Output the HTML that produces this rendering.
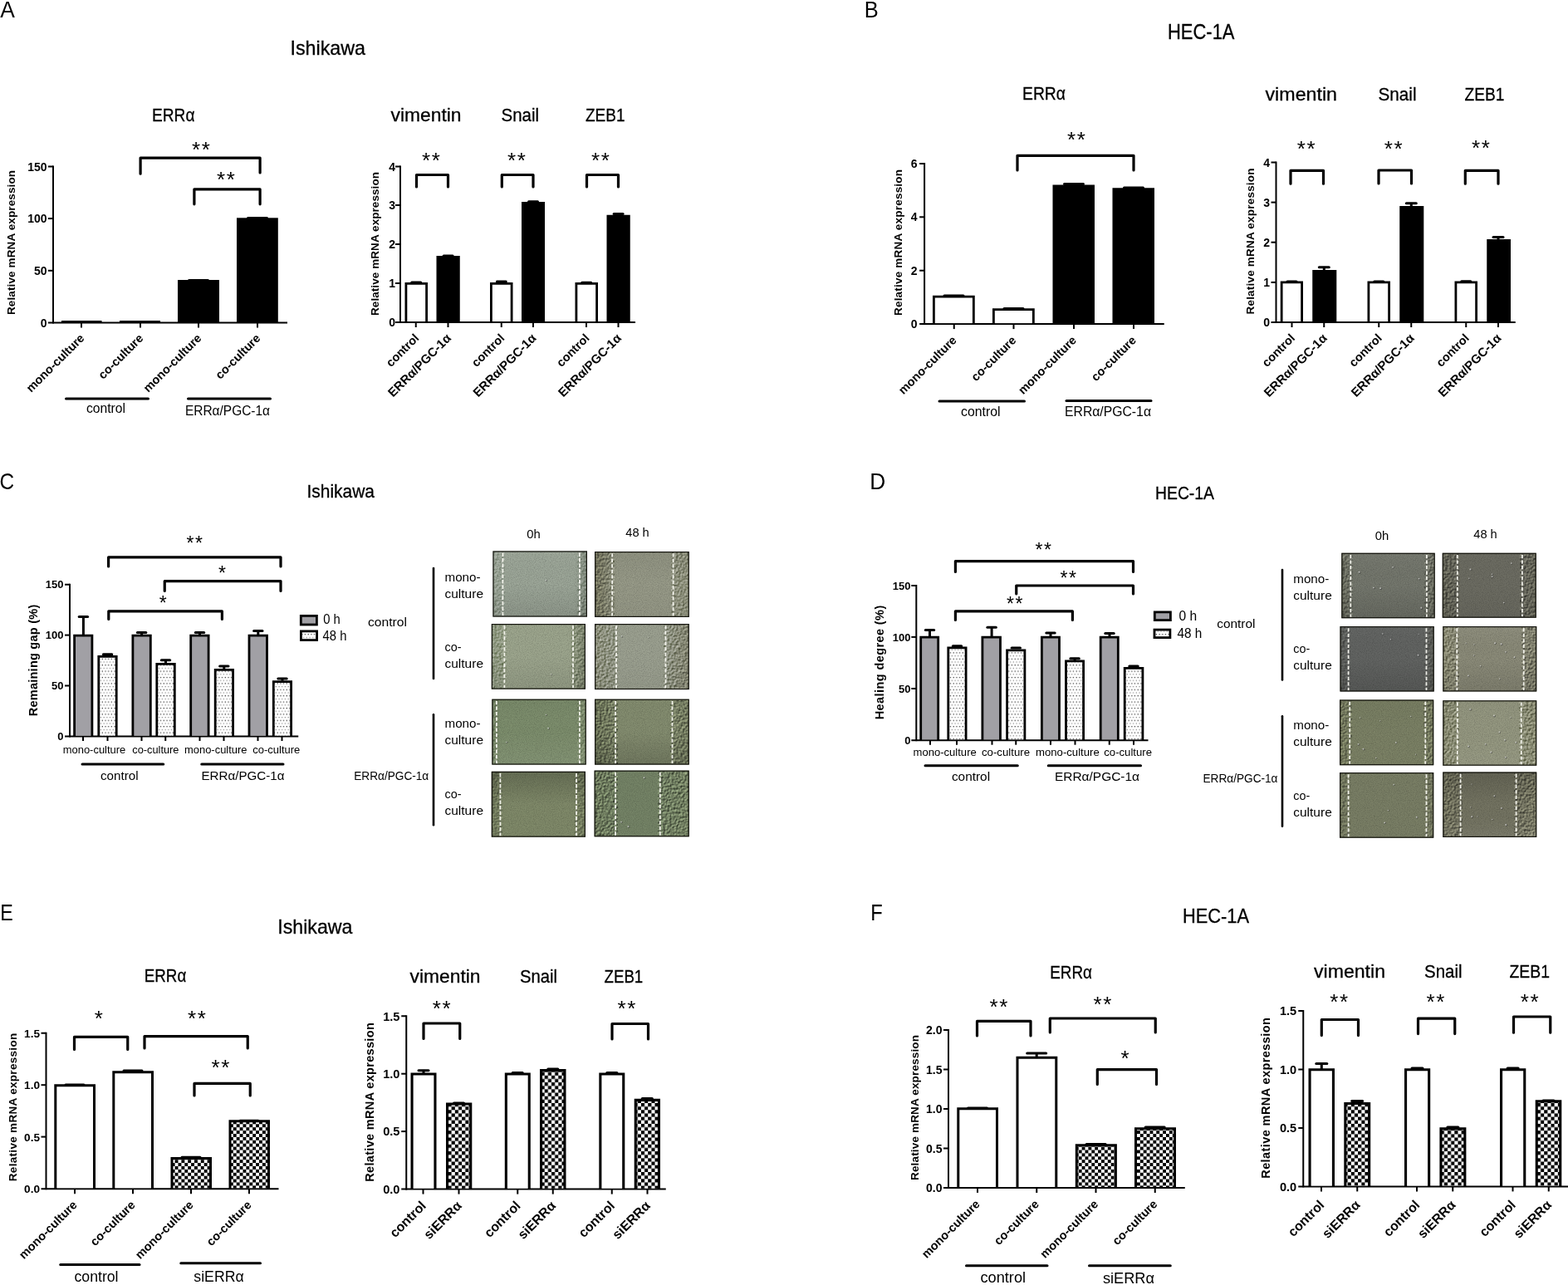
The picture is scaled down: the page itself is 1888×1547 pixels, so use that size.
<!DOCTYPE html>
<html lang="en"><head><meta charset="utf-8"><title>Figure</title>
<style>html,body{margin:0;padding:0;background:#fff}body{width:1888px;height:1547px;overflow:hidden}svg{display:block}text{font-family:"Liberation Sans",Arial,sans-serif;fill:#000}</style>
</head><body>
<svg width="1888" height="1547" viewBox="0 0 1888 1547" role="img" aria-label="Figure with panels A to F">
<defs>
<pattern id="chk" width="7.8" height="7.8" patternUnits="userSpaceOnUse"><rect width="7.8" height="7.8" fill="#fff"/><rect width="3.9" height="3.9" fill="#000"/><rect x="3.9" y="3.9" width="3.9" height="3.9" fill="#000"/></pattern>
<pattern id="chk2" width="8.3" height="8.3" patternUnits="userSpaceOnUse"><rect width="8.3" height="8.3" fill="#fff"/><rect width="4.15" height="4.15" fill="#000"/><rect x="4.15" y="4.15" width="4.15" height="4.15" fill="#000"/></pattern>
<pattern id="dot" width="3.7" height="7.4" patternUnits="userSpaceOnUse"><rect width="3.7" height="7.4" fill="#fff"/><rect x="0.6" y="0.9" width="1.25" height="1.25" fill="#3a3a3a"/><rect x="2.45" y="4.6" width="1.25" height="1.25" fill="#8c8c8c"/></pattern>
<filter id="nz" x="0" y="0" width="100%" height="100%"><feTurbulence type="fractalNoise" baseFrequency="0.9" numOctaves="2" seed="3" result="n"/><feColorMatrix in="n" type="matrix" values="0 0 0 0 0  0 0 0 0 0  0 0 0 0 0  1.1 0 0 0 -0.42"/></filter>
<filter id="nz2" x="0" y="0" width="100%" height="100%" color-interpolation-filters="sRGB"><feTurbulence type="fractalNoise" baseFrequency="0.38" numOctaves="2" seed="11" result="n"/><feDiffuseLighting in="n" surfaceScale="1.6" diffuseConstant="1" lighting-color="#ffffff" result="l"><feDistantLight azimuth="225" elevation="29"/></feDiffuseLighting><feGaussianBlur in="l" stdDeviation="0.45"/></filter>
</defs>
<rect width="1888" height="1547" fill="#fff"/>
<text x="0.2" y="21.2" font-size="28.5" textLength="17.6" lengthAdjust="spacingAndGlyphs">A</text>
<text x="1040.8" y="20.8" font-size="28.5" textLength="17" lengthAdjust="spacingAndGlyphs">B</text>
<text x="-0.6" y="589.2" font-size="28.5" textLength="17.6" lengthAdjust="spacingAndGlyphs">C</text>
<text x="1047.2" y="588.9" font-size="28.5" textLength="19" lengthAdjust="spacingAndGlyphs">D</text>
<text x="0.2" y="1108.2" font-size="28.5" textLength="15.5" lengthAdjust="spacingAndGlyphs">E</text>
<text x="1048.2" y="1107.7" font-size="28.5" textLength="14.5" lengthAdjust="spacingAndGlyphs">F</text>
<text x="349.5" y="65.7" font-size="23.8" textLength="90.5" lengthAdjust="spacingAndGlyphs" stroke="#000" stroke-width="0.3">Ishikawa</text>
<text x="1406" y="46.9" font-size="25.2" textLength="80.5" lengthAdjust="spacingAndGlyphs" stroke="#000" stroke-width="0.3">HEC-1A</text>
<text x="369.5" y="599.3" font-size="22.6" textLength="81.5" lengthAdjust="spacingAndGlyphs" stroke="#000" stroke-width="0.3">Ishikawa</text>
<text x="1391" y="601.2" font-size="21.5" textLength="71" lengthAdjust="spacingAndGlyphs" stroke="#000" stroke-width="0.3">HEC-1A</text>
<text x="334.25" y="1123.9" font-size="23.8" textLength="90.25" lengthAdjust="spacingAndGlyphs" stroke="#000" stroke-width="0.3">Ishikawa</text>
<text x="1424" y="1110.9" font-size="24.2" textLength="80" lengthAdjust="spacingAndGlyphs" stroke="#000" stroke-width="0.3">HEC-1A</text>
<text x="183" y="145.5" font-size="22.8" textLength="51.5" lengthAdjust="spacingAndGlyphs" stroke="#000" stroke-width="0.3">ERRα</text>
<text x="470.5" y="146.25" font-size="22.8" textLength="85" lengthAdjust="spacingAndGlyphs" stroke="#000" stroke-width="0.3">vimentin</text>
<text x="603.5" y="146.25" font-size="22.8" textLength="45.5" lengthAdjust="spacingAndGlyphs" stroke="#000" stroke-width="0.3">Snail</text>
<text x="705" y="146.25" font-size="22.8" textLength="47.5" lengthAdjust="spacingAndGlyphs" stroke="#000" stroke-width="0.3">ZEB1</text>
<text x="1231" y="120" font-size="22.8" textLength="52" lengthAdjust="spacingAndGlyphs" stroke="#000" stroke-width="0.3">ERRα</text>
<text x="1523.5" y="121.25" font-size="22.8" textLength="86.5" lengthAdjust="spacingAndGlyphs" stroke="#000" stroke-width="0.3">vimentin</text>
<text x="1659.5" y="121.25" font-size="22.8" textLength="46" lengthAdjust="spacingAndGlyphs" stroke="#000" stroke-width="0.3">Snail</text>
<text x="1763.5" y="121.25" font-size="22.8" textLength="48" lengthAdjust="spacingAndGlyphs" stroke="#000" stroke-width="0.3">ZEB1</text>
<text x="173.75" y="1181.75" font-size="22.8" textLength="50.5" lengthAdjust="spacingAndGlyphs" stroke="#000" stroke-width="0.3">ERRα</text>
<text x="493.5" y="1182.5" font-size="22.8" textLength="85" lengthAdjust="spacingAndGlyphs" stroke="#000" stroke-width="0.3">vimentin</text>
<text x="626" y="1182.5" font-size="22.8" textLength="45" lengthAdjust="spacingAndGlyphs" stroke="#000" stroke-width="0.3">Snail</text>
<text x="727.5" y="1182.5" font-size="22.8" textLength="46.75" lengthAdjust="spacingAndGlyphs" stroke="#000" stroke-width="0.3">ZEB1</text>
<text x="1264.25" y="1177.5" font-size="22.8" textLength="50.75" lengthAdjust="spacingAndGlyphs" stroke="#000" stroke-width="0.3">ERRα</text>
<text x="1582" y="1176.75" font-size="22.8" textLength="86" lengthAdjust="spacingAndGlyphs" stroke="#000" stroke-width="0.3">vimentin</text>
<text x="1715" y="1176.75" font-size="22.8" textLength="45.5" lengthAdjust="spacingAndGlyphs" stroke="#000" stroke-width="0.3">Snail</text>
<text x="1817.5" y="1176.75" font-size="22.8" textLength="48.5" lengthAdjust="spacingAndGlyphs" stroke="#000" stroke-width="0.3">ZEB1</text>
<line x1="64" y1="199.5" x2="64" y2="389.5" stroke="#000" stroke-width="2"/>
<line x1="58" y1="388.5" x2="346" y2="388.5" stroke="#000" stroke-width="2"/>
<text x="56.5" y="393.54" font-size="14" font-weight="bold" text-anchor="end">0</text>
<line x1="58" y1="325.8" x2="64" y2="325.8" stroke="#000" stroke-width="2"/>
<text x="56.5" y="330.84" font-size="14" font-weight="bold" text-anchor="end">50</text>
<line x1="58" y1="263.1" x2="64" y2="263.1" stroke="#000" stroke-width="2"/>
<text x="56.5" y="268.14" font-size="14" font-weight="bold" text-anchor="end">100</text>
<line x1="58" y1="200.5" x2="64" y2="200.5" stroke="#000" stroke-width="2"/>
<text x="56.5" y="205.54" font-size="14" font-weight="bold" text-anchor="end">150</text>
<text x="17.51" y="292" font-size="13.5" font-weight="bold" text-anchor="middle" textLength="174" lengthAdjust="spacing" transform="rotate(-90 17.51 292)">Relative mRNA expression</text>
<rect x="74" y="386" width="48.5" height="2.5" fill="#000"/>
<rect x="144" y="386" width="49" height="2.5" fill="#000"/>
<rect x="214" y="337" width="50" height="51.5" fill="#000"/>
<rect x="285" y="262.3" width="49.8" height="126.2" fill="#000"/>
<line x1="227.5" y1="337.5" x2="250.5" y2="337.5" stroke="#000" stroke-width="3" stroke-linecap="round"/>
<line x1="298.5" y1="262.5" x2="321.5" y2="262.5" stroke="#000" stroke-width="3" stroke-linecap="round"/>
<line x1="98" y1="388.5" x2="98" y2="394.5" stroke="#000" stroke-width="2"/>
<line x1="169" y1="388.5" x2="169" y2="394.5" stroke="#000" stroke-width="2"/>
<line x1="239" y1="388.5" x2="239" y2="394.5" stroke="#000" stroke-width="2"/>
<line x1="310" y1="388.5" x2="310" y2="394.5" stroke="#000" stroke-width="2"/>
<path d="M169.1 209.2V190.1H313.1V208" fill="none" stroke="#000" stroke-width="3.2" stroke-linecap="round" stroke-linejoin="round"/>
<text x="231.07" y="188.99" font-size="26" letter-spacing="1.6">**</text>
<path d="M233.9 245.8V227.8H313.1V245.8" fill="none" stroke="#000" stroke-width="3.2" stroke-linecap="round" stroke-linejoin="round"/>
<text x="261.07" y="225.39" font-size="26" letter-spacing="1.6">**</text>
<text x="102.5" y="408" font-size="14.4" font-weight="bold" text-anchor="end" transform="rotate(-45 102.5 408)">mono-culture</text>
<text x="173.5" y="408" font-size="14.4" font-weight="bold" text-anchor="end" transform="rotate(-45 173.5 408)">co-culture</text>
<text x="243.5" y="408" font-size="14.4" font-weight="bold" text-anchor="end" transform="rotate(-45 243.5 408)">mono-culture</text>
<text x="314.5" y="408" font-size="14.4" font-weight="bold" text-anchor="end" transform="rotate(-45 314.5 408)">co-culture</text>
<line x1="79.5" y1="480" x2="178.5" y2="480" stroke="#000" stroke-width="3" stroke-linecap="round"/>
<line x1="226.5" y1="480" x2="325.5" y2="480" stroke="#000" stroke-width="3" stroke-linecap="round"/>
<text x="127.5" y="497" font-size="15.7" text-anchor="middle">control</text>
<text x="274" y="499.5" font-size="15.7" text-anchor="middle" textLength="102" lengthAdjust="spacingAndGlyphs">ERRα/PGC-1α</text>
<line x1="482" y1="199.5" x2="482" y2="389" stroke="#000" stroke-width="2"/>
<line x1="476" y1="388" x2="765" y2="388" stroke="#000" stroke-width="2"/>
<text x="476" y="393.04" font-size="14" font-weight="bold" text-anchor="end">0</text>
<line x1="476" y1="341" x2="482" y2="341" stroke="#000" stroke-width="2"/>
<text x="476" y="346.04" font-size="14" font-weight="bold" text-anchor="end">1</text>
<line x1="476" y1="294" x2="482" y2="294" stroke="#000" stroke-width="2"/>
<text x="476" y="299.04" font-size="14" font-weight="bold" text-anchor="end">2</text>
<line x1="476" y1="247" x2="482" y2="247" stroke="#000" stroke-width="2"/>
<text x="476" y="252.04" font-size="14" font-weight="bold" text-anchor="end">3</text>
<line x1="476" y1="200.5" x2="482" y2="200.5" stroke="#000" stroke-width="2"/>
<text x="476" y="205.54" font-size="14" font-weight="bold" text-anchor="end">4</text>
<text x="456.01" y="293.5" font-size="13.5" font-weight="bold" text-anchor="middle" textLength="173" lengthAdjust="spacing" transform="rotate(-90 456.01 293.5)">Relative mRNA expression</text>
<rect x="488.9" y="341.4" width="24.7" height="45.6" fill="#fff"/>
<path d="M488.9 388V341.4H513.6V388" fill="none" stroke="#000" stroke-width="2.8" stroke-linejoin="miter"/>
<rect x="525.5" y="308" width="28.25" height="80" fill="#000"/>
<rect x="591.4" y="341.4" width="24.7" height="45.6" fill="#fff"/>
<path d="M591.4 388V341.4H616.1V388" fill="none" stroke="#000" stroke-width="2.8" stroke-linejoin="miter"/>
<rect x="628" y="243" width="28" height="145" fill="#000"/>
<rect x="693.9" y="341.4" width="24.7" height="45.6" fill="#fff"/>
<path d="M693.9 388V341.4H718.6V388" fill="none" stroke="#000" stroke-width="2.8" stroke-linejoin="miter"/>
<rect x="730.5" y="258.75" width="28.25" height="129.25" fill="#000"/>
<line x1="495.7" y1="340.1" x2="506.7" y2="340.1" stroke="#000" stroke-width="3" stroke-linecap="round"/>
<line x1="534.1" y1="308.1" x2="545.1" y2="308.1" stroke="#000" stroke-width="3" stroke-linecap="round"/>
<line x1="598.3" y1="339.1" x2="609.3" y2="339.1" stroke="#000" stroke-width="3" stroke-linecap="round"/>
<line x1="636.5" y1="242.7" x2="647.5" y2="242.7" stroke="#000" stroke-width="3" stroke-linecap="round"/>
<line x1="700.7" y1="340.3" x2="711.7" y2="340.3" stroke="#000" stroke-width="3" stroke-linecap="round"/>
<line x1="739.1" y1="257.6" x2="750.1" y2="257.6" stroke="#000" stroke-width="3" stroke-linecap="round"/>
<line x1="500.75" y1="388" x2="500.75" y2="394" stroke="#000" stroke-width="2"/>
<line x1="539.5" y1="388" x2="539.5" y2="394" stroke="#000" stroke-width="2"/>
<line x1="603.75" y1="388" x2="603.75" y2="394" stroke="#000" stroke-width="2"/>
<line x1="642" y1="388" x2="642" y2="394" stroke="#000" stroke-width="2"/>
<line x1="706" y1="388" x2="706" y2="394" stroke="#000" stroke-width="2"/>
<line x1="744.5" y1="388" x2="744.5" y2="394" stroke="#000" stroke-width="2"/>
<path d="M501.5 224.9V210.5H539.5V224.9" fill="none" stroke="#000" stroke-width="3.2" stroke-linecap="round" stroke-linejoin="round"/>
<text x="508.07" y="202.39" font-size="26" letter-spacing="1.6">**</text>
<path d="M604.3 224.9V210.5H642V224.9" fill="none" stroke="#000" stroke-width="3.2" stroke-linecap="round" stroke-linejoin="round"/>
<text x="611.07" y="202.39" font-size="26" letter-spacing="1.6">**</text>
<path d="M706.5 224.9V210.5H744.5V224.9" fill="none" stroke="#000" stroke-width="3.2" stroke-linecap="round" stroke-linejoin="round"/>
<text x="712.07" y="202.39" font-size="26" letter-spacing="1.6">**</text>
<text x="505.25" y="408" font-size="14.4" font-weight="bold" text-anchor="end" transform="rotate(-45 505.25 408)">control</text>
<text x="608.25" y="408" font-size="14.4" font-weight="bold" text-anchor="end" transform="rotate(-45 608.25 408)">control</text>
<text x="710.5" y="408" font-size="14.4" font-weight="bold" text-anchor="end" transform="rotate(-45 710.5 408)">control</text>
<text x="544" y="408" font-size="15" font-weight="bold" text-anchor="end" transform="rotate(-45 544 408)">ERRα/PGC-1α</text>
<text x="646.5" y="408" font-size="15" font-weight="bold" text-anchor="end" transform="rotate(-45 646.5 408)">ERRα/PGC-1α</text>
<text x="749" y="408" font-size="15" font-weight="bold" text-anchor="end" transform="rotate(-45 749 408)">ERRα/PGC-1α</text>
<line x1="1113.1" y1="196" x2="1113.1" y2="391.1" stroke="#000" stroke-width="2"/>
<line x1="1107.1" y1="390.1" x2="1401.75" y2="390.1" stroke="#000" stroke-width="2"/>
<text x="1104.5" y="395.14" font-size="14" font-weight="bold" text-anchor="end">0</text>
<line x1="1107.1" y1="325.7" x2="1113.1" y2="325.7" stroke="#000" stroke-width="2"/>
<text x="1104.5" y="330.74" font-size="14" font-weight="bold" text-anchor="end">2</text>
<line x1="1107.1" y1="261.3" x2="1113.1" y2="261.3" stroke="#000" stroke-width="2"/>
<text x="1104.5" y="266.34" font-size="14" font-weight="bold" text-anchor="end">4</text>
<line x1="1107.1" y1="197" x2="1113.1" y2="197" stroke="#000" stroke-width="2"/>
<text x="1104.5" y="202.04" font-size="14" font-weight="bold" text-anchor="end">6</text>
<text x="1086.01" y="292" font-size="13.5" font-weight="bold" text-anchor="middle" textLength="176" lengthAdjust="spacing" transform="rotate(-90 1086.01 292)">Relative mRNA expression</text>
<rect x="1124.4" y="357.1" width="47.95" height="32" fill="#fff"/>
<path d="M1124.4 390.1V357.1H1172.35V390.1" fill="none" stroke="#000" stroke-width="2.8" stroke-linejoin="miter"/>
<rect x="1196.4" y="372.6" width="47.95" height="16.5" fill="#fff"/>
<path d="M1196.4 390.1V372.6H1244.35V390.1" fill="none" stroke="#000" stroke-width="2.8" stroke-linejoin="miter"/>
<rect x="1267.5" y="222.5" width="50.5" height="167.6" fill="#000"/>
<rect x="1339.5" y="226.25" width="50.5" height="163.85" fill="#000"/>
<line x1="1137" y1="355.9" x2="1160" y2="355.9" stroke="#000" stroke-width="3" stroke-linecap="round"/>
<line x1="1209" y1="371.5" x2="1232" y2="371.5" stroke="#000" stroke-width="3" stroke-linecap="round"/>
<line x1="1281.5" y1="221.5" x2="1304.5" y2="221.5" stroke="#000" stroke-width="3" stroke-linecap="round"/>
<line x1="1353.5" y1="225.9" x2="1376.5" y2="225.9" stroke="#000" stroke-width="3" stroke-linecap="round"/>
<line x1="1148.75" y1="390.1" x2="1148.75" y2="396.1" stroke="#000" stroke-width="2"/>
<line x1="1220.5" y1="390.1" x2="1220.5" y2="396.1" stroke="#000" stroke-width="2"/>
<line x1="1293" y1="390.1" x2="1293" y2="396.1" stroke="#000" stroke-width="2"/>
<line x1="1365" y1="390.1" x2="1365" y2="396.1" stroke="#000" stroke-width="2"/>
<path d="M1225 204.9V187.3H1365V204.9" fill="none" stroke="#000" stroke-width="3.2" stroke-linecap="round" stroke-linejoin="round"/>
<text x="1285.07" y="177.39" font-size="26" letter-spacing="1.6">**</text>
<text x="1152.75" y="410.5" font-size="14.4" font-weight="bold" text-anchor="end" transform="rotate(-45 1152.75 410.5)">mono-culture</text>
<text x="1224.5" y="410.5" font-size="14.4" font-weight="bold" text-anchor="end" transform="rotate(-45 1224.5 410.5)">co-culture</text>
<text x="1297" y="410.5" font-size="14.4" font-weight="bold" text-anchor="end" transform="rotate(-45 1297 410.5)">mono-culture</text>
<text x="1369" y="410.5" font-size="14.4" font-weight="bold" text-anchor="end" transform="rotate(-45 1369 410.5)">co-culture</text>
<line x1="1131" y1="482.9" x2="1233.5" y2="482.9" stroke="#000" stroke-width="3" stroke-linecap="round"/>
<line x1="1284" y1="482.4" x2="1386" y2="482.4" stroke="#000" stroke-width="3" stroke-linecap="round"/>
<text x="1180.75" y="501" font-size="15.8" text-anchor="middle">control</text>
<text x="1334" y="501" font-size="15.8" text-anchor="middle" textLength="104" lengthAdjust="spacingAndGlyphs">ERRα/PGC-1α</text>
<line x1="1536.5" y1="194.5" x2="1536.5" y2="389" stroke="#000" stroke-width="2"/>
<line x1="1530.5" y1="388" x2="1824.75" y2="388" stroke="#000" stroke-width="2"/>
<text x="1529" y="393.04" font-size="14" font-weight="bold" text-anchor="end">0</text>
<line x1="1530.5" y1="339.9" x2="1536.5" y2="339.9" stroke="#000" stroke-width="2"/>
<text x="1529" y="344.94" font-size="14" font-weight="bold" text-anchor="end">1</text>
<line x1="1530.5" y1="291.7" x2="1536.5" y2="291.7" stroke="#000" stroke-width="2"/>
<text x="1529" y="296.74" font-size="14" font-weight="bold" text-anchor="end">2</text>
<line x1="1530.5" y1="243.6" x2="1536.5" y2="243.6" stroke="#000" stroke-width="2"/>
<text x="1529" y="248.64" font-size="14" font-weight="bold" text-anchor="end">3</text>
<line x1="1530.5" y1="195.5" x2="1536.5" y2="195.5" stroke="#000" stroke-width="2"/>
<text x="1529" y="200.54" font-size="14" font-weight="bold" text-anchor="end">4</text>
<text x="1509.51" y="290.5" font-size="13.5" font-weight="bold" text-anchor="middle" textLength="176" lengthAdjust="spacing" transform="rotate(-90 1509.51 290.5)">Relative mRNA expression</text>
<rect x="1543.15" y="339.9" width="24.45" height="47.1" fill="#fff"/>
<path d="M1543.15 388V339.9H1567.6V388" fill="none" stroke="#000" stroke-width="2.8" stroke-linejoin="miter"/>
<rect x="1580.25" y="325" width="29.05" height="63" fill="#000"/>
<rect x="1647.9" y="339.9" width="24.7" height="47.1" fill="#fff"/>
<path d="M1647.9 388V339.9H1672.6V388" fill="none" stroke="#000" stroke-width="2.8" stroke-linejoin="miter"/>
<rect x="1685.25" y="248" width="29.05" height="140" fill="#000"/>
<rect x="1752.9" y="339.9" width="24.7" height="47.1" fill="#fff"/>
<path d="M1752.9 388V339.9H1777.6V388" fill="none" stroke="#000" stroke-width="2.8" stroke-linejoin="miter"/>
<rect x="1790.25" y="288" width="28.75" height="100" fill="#000"/>
<line x1="1550" y1="338.9" x2="1561" y2="338.9" stroke="#000" stroke-width="3" stroke-linecap="round"/>
<line x1="1594.3" y1="321.8" x2="1594.3" y2="325.5" stroke="#000" stroke-width="3"/>
<line x1="1588.3" y1="321.8" x2="1600.3" y2="321.8" stroke="#000" stroke-width="3" stroke-linecap="round"/>
<line x1="1654.8" y1="338.9" x2="1665.8" y2="338.9" stroke="#000" stroke-width="3" stroke-linecap="round"/>
<line x1="1699.3" y1="244.7" x2="1699.3" y2="248.5" stroke="#000" stroke-width="3"/>
<line x1="1693.3" y1="244.7" x2="1705.3" y2="244.7" stroke="#000" stroke-width="3" stroke-linecap="round"/>
<line x1="1759.8" y1="338.7" x2="1770.8" y2="338.7" stroke="#000" stroke-width="3" stroke-linecap="round"/>
<line x1="1804" y1="285.5" x2="1804" y2="288.5" stroke="#000" stroke-width="3"/>
<line x1="1798" y1="285.5" x2="1810" y2="285.5" stroke="#000" stroke-width="3" stroke-linecap="round"/>
<line x1="1555.5" y1="388" x2="1555.5" y2="394" stroke="#000" stroke-width="2"/>
<line x1="1594.25" y1="388" x2="1594.25" y2="394" stroke="#000" stroke-width="2"/>
<line x1="1660.25" y1="388" x2="1660.25" y2="394" stroke="#000" stroke-width="2"/>
<line x1="1699.25" y1="388" x2="1699.25" y2="394" stroke="#000" stroke-width="2"/>
<line x1="1765.25" y1="388" x2="1765.25" y2="394" stroke="#000" stroke-width="2"/>
<line x1="1804" y1="388" x2="1804" y2="394" stroke="#000" stroke-width="2"/>
<path d="M1554 221.2V205.3H1593.5V221.2" fill="none" stroke="#000" stroke-width="3.2" stroke-linecap="round" stroke-linejoin="round"/>
<text x="1561.82" y="188.39" font-size="26" letter-spacing="1.6">**</text>
<path d="M1660 220.9V205H1699.5V220.9" fill="none" stroke="#000" stroke-width="3.2" stroke-linecap="round" stroke-linejoin="round"/>
<text x="1666.82" y="187.89" font-size="26" letter-spacing="1.6">**</text>
<path d="M1764.3 221.2V205.3H1804V221.2" fill="none" stroke="#000" stroke-width="3.2" stroke-linecap="round" stroke-linejoin="round"/>
<text x="1772.07" y="187.14" font-size="26" letter-spacing="1.6">**</text>
<text x="1560" y="408" font-size="14.4" font-weight="bold" text-anchor="end" transform="rotate(-45 1560 408)">control</text>
<text x="1664.75" y="408" font-size="14.4" font-weight="bold" text-anchor="end" transform="rotate(-45 1664.75 408)">control</text>
<text x="1769.75" y="408" font-size="14.4" font-weight="bold" text-anchor="end" transform="rotate(-45 1769.75 408)">control</text>
<text x="1598.75" y="408" font-size="15" font-weight="bold" text-anchor="end" transform="rotate(-45 1598.75 408)">ERRα/PGC-1α</text>
<text x="1703.75" y="408" font-size="15" font-weight="bold" text-anchor="end" transform="rotate(-45 1703.75 408)">ERRα/PGC-1α</text>
<text x="1808.5" y="408" font-size="15" font-weight="bold" text-anchor="end" transform="rotate(-45 1808.5 408)">ERRα/PGC-1α</text>
<line x1="84" y1="702.75" x2="84" y2="887.5" stroke="#000" stroke-width="2"/>
<line x1="78" y1="886.5" x2="359.25" y2="886.5" stroke="#000" stroke-width="2"/>
<text x="76.5" y="891.18" font-size="13" font-weight="bold" text-anchor="end">0</text>
<line x1="78" y1="825.5" x2="84" y2="825.5" stroke="#000" stroke-width="2"/>
<text x="76.5" y="830.18" font-size="13" font-weight="bold" text-anchor="end">50</text>
<line x1="78" y1="764.6" x2="84" y2="764.6" stroke="#000" stroke-width="2"/>
<text x="76.5" y="769.28" font-size="13" font-weight="bold" text-anchor="end">100</text>
<line x1="78" y1="703.75" x2="84" y2="703.75" stroke="#000" stroke-width="2"/>
<text x="76.5" y="708.43" font-size="13" font-weight="bold" text-anchor="end">150</text>
<text x="44.97" y="795" font-size="14.5" font-weight="bold" text-anchor="middle" textLength="134.5" lengthAdjust="spacing" transform="rotate(-90 44.97 795)">Remaining gap (%)</text>
<rect x="89.6" y="765.1" width="21.3" height="120.4" fill="#a1a0a5"/>
<path d="M89.6 886.5V765.1H110.9V886.5" fill="none" stroke="#000" stroke-width="2.8" stroke-linejoin="miter"/>
<rect x="118.8" y="790.3" width="21.4" height="95.2" fill="url(#dot)"/>
<path d="M118.8 886.5V790.3H140.2V886.5" fill="none" stroke="#000" stroke-width="2.8" stroke-linejoin="miter"/>
<rect x="159.9" y="765.1" width="21.4" height="120.4" fill="#a1a0a5"/>
<path d="M159.9 886.5V765.1H181.3V886.5" fill="none" stroke="#000" stroke-width="2.8" stroke-linejoin="miter"/>
<rect x="188.8" y="799.4" width="21.5" height="86.1" fill="url(#dot)"/>
<path d="M188.8 886.5V799.4H210.3V886.5" fill="none" stroke="#000" stroke-width="2.8" stroke-linejoin="miter"/>
<rect x="229.7" y="765.1" width="21.4" height="120.4" fill="#a1a0a5"/>
<path d="M229.7 886.5V765.1H251.1V886.5" fill="none" stroke="#000" stroke-width="2.8" stroke-linejoin="miter"/>
<rect x="259.2" y="806.4" width="21.4" height="79.1" fill="url(#dot)"/>
<path d="M259.2 886.5V806.4H280.6V886.5" fill="none" stroke="#000" stroke-width="2.8" stroke-linejoin="miter"/>
<rect x="300" y="765.1" width="21.5" height="120.4" fill="#a1a0a5"/>
<path d="M300 886.5V765.1H321.5V886.5" fill="none" stroke="#000" stroke-width="2.8" stroke-linejoin="miter"/>
<rect x="329.3" y="820.7" width="21.3" height="64.8" fill="url(#dot)"/>
<path d="M329.3 886.5V820.7H350.6V886.5" fill="none" stroke="#000" stroke-width="2.8" stroke-linejoin="miter"/>
<line x1="100.4" y1="742.6" x2="100.4" y2="764.5" stroke="#000" stroke-width="3"/>
<line x1="95.2" y1="742.6" x2="105.6" y2="742.6" stroke="#000" stroke-width="3" stroke-linecap="round"/>
<line x1="124.4" y1="787.7" x2="134.8" y2="787.7" stroke="#000" stroke-width="3" stroke-linecap="round"/>
<line x1="170.6" y1="761.4" x2="170.6" y2="764.5" stroke="#000" stroke-width="3"/>
<line x1="165.4" y1="761.4" x2="175.8" y2="761.4" stroke="#000" stroke-width="3" stroke-linecap="round"/>
<line x1="199.5" y1="794.8" x2="199.5" y2="798.5" stroke="#000" stroke-width="3"/>
<line x1="194.3" y1="794.8" x2="204.7" y2="794.8" stroke="#000" stroke-width="3" stroke-linecap="round"/>
<line x1="240.5" y1="761.5" x2="240.5" y2="764.5" stroke="#000" stroke-width="3"/>
<line x1="235.3" y1="761.5" x2="245.7" y2="761.5" stroke="#000" stroke-width="3" stroke-linecap="round"/>
<line x1="269.8" y1="802" x2="269.8" y2="805.5" stroke="#000" stroke-width="3"/>
<line x1="264.6" y1="802" x2="275" y2="802" stroke="#000" stroke-width="3" stroke-linecap="round"/>
<line x1="310.8" y1="759.5" x2="310.8" y2="764.5" stroke="#000" stroke-width="3"/>
<line x1="305.6" y1="759.5" x2="316" y2="759.5" stroke="#000" stroke-width="3" stroke-linecap="round"/>
<line x1="340" y1="817.1" x2="340" y2="819.8" stroke="#000" stroke-width="3"/>
<line x1="334.8" y1="817.1" x2="345.2" y2="817.1" stroke="#000" stroke-width="3" stroke-linecap="round"/>
<line x1="100" y1="886.5" x2="100" y2="892" stroke="#000" stroke-width="2"/>
<line x1="129.5" y1="886.5" x2="129.5" y2="892" stroke="#000" stroke-width="2"/>
<line x1="170.5" y1="886.5" x2="170.5" y2="892" stroke="#000" stroke-width="2"/>
<line x1="199.25" y1="886.5" x2="199.25" y2="892" stroke="#000" stroke-width="2"/>
<line x1="240.5" y1="886.5" x2="240.5" y2="892" stroke="#000" stroke-width="2"/>
<line x1="269.5" y1="886.5" x2="269.5" y2="892" stroke="#000" stroke-width="2"/>
<line x1="310.5" y1="886.5" x2="310.5" y2="892" stroke="#000" stroke-width="2"/>
<line x1="339.5" y1="886.5" x2="339.5" y2="892" stroke="#000" stroke-width="2"/>
<path d="M130.6 681.9V670.9H338V681.9" fill="none" stroke="#000" stroke-width="3.2" stroke-linecap="round" stroke-linejoin="round"/>
<text x="224.49" y="662.35" font-size="23" letter-spacing="1.6">**</text>
<path d="M198.25 711.4V699.6H338V711.4" fill="none" stroke="#000" stroke-width="3.2" stroke-linecap="round" stroke-linejoin="round"/>
<text x="263.02" y="697.6" font-size="23">*</text>
<path d="M130.8 745.4V735.8H267.4V745.4" fill="none" stroke="#000" stroke-width="3.2" stroke-linecap="round" stroke-linejoin="round"/>
<text x="191.76" y="733.85" font-size="23">*</text>
<text x="75.75" y="907" font-size="13" textLength="75.5" lengthAdjust="spacingAndGlyphs">mono-culture</text>
<text x="159.25" y="907" font-size="13" textLength="56.25" lengthAdjust="spacingAndGlyphs">co-culture</text>
<text x="222" y="907" font-size="13" textLength="75.5" lengthAdjust="spacingAndGlyphs">mono-culture</text>
<text x="304.25" y="907" font-size="13" textLength="57" lengthAdjust="spacingAndGlyphs">co-culture</text>
<line x1="99" y1="920" x2="196.75" y2="920" stroke="#000" stroke-width="3" stroke-linecap="round"/>
<line x1="242.75" y1="920" x2="341" y2="920" stroke="#000" stroke-width="3" stroke-linecap="round"/>
<text x="143.75" y="938.8" font-size="15.2" text-anchor="middle">control</text>
<text x="292.5" y="938.8" font-size="15.2" text-anchor="middle" textLength="100" lengthAdjust="spacingAndGlyphs">ERRα/PGC-1α</text>
<rect x="362.3" y="741.4" width="19.1" height="10.6" fill="#a1a0a5" stroke="#000" stroke-width="2.8"/>
<text x="389.25" y="751" font-size="16.2" textLength="20.6" lengthAdjust="spacingAndGlyphs">0 h</text>
<rect x="362.4" y="759.9" width="19.2" height="10.7" fill="url(#dot)" stroke="#000" stroke-width="2.8"/>
<text x="388.6" y="771" font-size="16.2" textLength="28.8" lengthAdjust="spacingAndGlyphs">48 h</text>
<line x1="1103.3" y1="704" x2="1103.3" y2="892.2" stroke="#000" stroke-width="2"/>
<line x1="1097.3" y1="891.2" x2="1382.5" y2="891.2" stroke="#000" stroke-width="2"/>
<text x="1096.5" y="895.88" font-size="13" font-weight="bold" text-anchor="end">0</text>
<line x1="1097.3" y1="829" x2="1103.3" y2="829" stroke="#000" stroke-width="2"/>
<text x="1096.5" y="833.68" font-size="13" font-weight="bold" text-anchor="end">50</text>
<line x1="1097.3" y1="766.9" x2="1103.3" y2="766.9" stroke="#000" stroke-width="2"/>
<text x="1096.5" y="771.58" font-size="13" font-weight="bold" text-anchor="end">100</text>
<line x1="1097.3" y1="705" x2="1103.3" y2="705" stroke="#000" stroke-width="2"/>
<text x="1096.5" y="709.68" font-size="13" font-weight="bold" text-anchor="end">150</text>
<text x="1064.27" y="797.5" font-size="14.5" font-weight="bold" text-anchor="middle" textLength="137.5" lengthAdjust="spacing" transform="rotate(-90 1064.27 797.5)">Healing degree (%)</text>
<rect x="1108.7" y="767.2" width="21" height="123" fill="#a1a0a5"/>
<path d="M1108.7 891.2V767.2H1129.7V891.2" fill="none" stroke="#000" stroke-width="2.8" stroke-linejoin="miter"/>
<rect x="1141.8" y="779.9" width="21.3" height="110.3" fill="url(#dot)"/>
<path d="M1141.8 891.2V779.9H1163.1V891.2" fill="none" stroke="#000" stroke-width="2.8" stroke-linejoin="miter"/>
<rect x="1182.9" y="767.2" width="21.6" height="123" fill="#a1a0a5"/>
<path d="M1182.9 891.2V767.2H1204.5V891.2" fill="none" stroke="#000" stroke-width="2.8" stroke-linejoin="miter"/>
<rect x="1212.6" y="782.9" width="21.3" height="107.3" fill="url(#dot)"/>
<path d="M1212.6 891.2V782.9H1233.9V891.2" fill="none" stroke="#000" stroke-width="2.8" stroke-linejoin="miter"/>
<rect x="1254.4" y="767.2" width="21.1" height="123" fill="#a1a0a5"/>
<path d="M1254.4 891.2V767.2H1275.5V891.2" fill="none" stroke="#000" stroke-width="2.8" stroke-linejoin="miter"/>
<rect x="1283.5" y="795.9" width="21.1" height="94.3" fill="url(#dot)"/>
<path d="M1283.5 891.2V795.9H1304.6V891.2" fill="none" stroke="#000" stroke-width="2.8" stroke-linejoin="miter"/>
<rect x="1325.2" y="767.2" width="21.1" height="123" fill="#a1a0a5"/>
<path d="M1325.2 891.2V767.2H1346.3V891.2" fill="none" stroke="#000" stroke-width="2.8" stroke-linejoin="miter"/>
<rect x="1354.2" y="804.4" width="21.7" height="85.8" fill="url(#dot)"/>
<path d="M1354.2 891.2V804.4H1375.9V891.2" fill="none" stroke="#000" stroke-width="2.8" stroke-linejoin="miter"/>
<line x1="1119.5" y1="758.5" x2="1119.5" y2="766.5" stroke="#000" stroke-width="3"/>
<line x1="1114.3" y1="758.5" x2="1124.7" y2="758.5" stroke="#000" stroke-width="3" stroke-linecap="round"/>
<line x1="1147.3" y1="777.8" x2="1157.7" y2="777.8" stroke="#000" stroke-width="3" stroke-linecap="round"/>
<line x1="1194.1" y1="755.3" x2="1194.1" y2="766.5" stroke="#000" stroke-width="3"/>
<line x1="1188.9" y1="755.3" x2="1199.3" y2="755.3" stroke="#000" stroke-width="3" stroke-linecap="round"/>
<line x1="1218.1" y1="780" x2="1228.5" y2="780" stroke="#000" stroke-width="3" stroke-linecap="round"/>
<line x1="1265" y1="762.1" x2="1265" y2="766.5" stroke="#000" stroke-width="3"/>
<line x1="1259.8" y1="762.1" x2="1270.2" y2="762.1" stroke="#000" stroke-width="3" stroke-linecap="round"/>
<line x1="1294.1" y1="792.8" x2="1294.1" y2="795" stroke="#000" stroke-width="3"/>
<line x1="1288.9" y1="792.8" x2="1299.3" y2="792.8" stroke="#000" stroke-width="3" stroke-linecap="round"/>
<line x1="1336" y1="762.5" x2="1336" y2="766.5" stroke="#000" stroke-width="3"/>
<line x1="1330.8" y1="762.5" x2="1341.2" y2="762.5" stroke="#000" stroke-width="3" stroke-linecap="round"/>
<line x1="1359.8" y1="802.1" x2="1370.2" y2="802.1" stroke="#000" stroke-width="3" stroke-linecap="round"/>
<line x1="1120" y1="891.2" x2="1120" y2="896.7" stroke="#000" stroke-width="2"/>
<line x1="1152" y1="891.2" x2="1152" y2="896.7" stroke="#000" stroke-width="2"/>
<line x1="1194.5" y1="891.2" x2="1194.5" y2="896.7" stroke="#000" stroke-width="2"/>
<line x1="1223.25" y1="891.2" x2="1223.25" y2="896.7" stroke="#000" stroke-width="2"/>
<line x1="1265" y1="891.2" x2="1265" y2="896.7" stroke="#000" stroke-width="2"/>
<line x1="1294.5" y1="891.2" x2="1294.5" y2="896.7" stroke="#000" stroke-width="2"/>
<line x1="1335.75" y1="891.2" x2="1335.75" y2="896.7" stroke="#000" stroke-width="2"/>
<line x1="1365" y1="891.2" x2="1365" y2="896.7" stroke="#000" stroke-width="2"/>
<path d="M1150.4 688.4V675.6H1364.5V688.4" fill="none" stroke="#000" stroke-width="3.2" stroke-linecap="round" stroke-linejoin="round"/>
<text x="1246.49" y="670.1" font-size="23" letter-spacing="1.6">**</text>
<path d="M1223.75 714.9V705H1364.5V714.9" fill="none" stroke="#000" stroke-width="3.2" stroke-linecap="round" stroke-linejoin="round"/>
<text x="1276.49" y="703.85" font-size="23" letter-spacing="1.6">**</text>
<path d="M1150.4 746.4V735.9H1291.4V746.4" fill="none" stroke="#000" stroke-width="3.2" stroke-linecap="round" stroke-linejoin="round"/>
<text x="1211.99" y="735.1" font-size="23" letter-spacing="1.6">**</text>
<text x="1099.5" y="909.6" font-size="13" textLength="76.25" lengthAdjust="spacingAndGlyphs">mono-culture</text>
<text x="1182" y="909.6" font-size="13" textLength="58" lengthAdjust="spacingAndGlyphs">co-culture</text>
<text x="1247" y="909.6" font-size="13" textLength="76.75" lengthAdjust="spacingAndGlyphs">mono-culture</text>
<text x="1329.25" y="909.6" font-size="13" textLength="57.75" lengthAdjust="spacingAndGlyphs">co-culture</text>
<line x1="1114" y1="921.75" x2="1225.25" y2="921.75" stroke="#000" stroke-width="3" stroke-linecap="round"/>
<line x1="1262.25" y1="921.75" x2="1373.5" y2="921.75" stroke="#000" stroke-width="3" stroke-linecap="round"/>
<text x="1169" y="940.2" font-size="15.4" text-anchor="middle">control</text>
<text x="1321" y="940.2" font-size="15.4" text-anchor="middle" textLength="102" lengthAdjust="spacingAndGlyphs">ERRα/PGC-1α</text>
<rect x="1390.3" y="736.9" width="19.1" height="9.7" fill="#a1a0a5" stroke="#000" stroke-width="2.8"/>
<text x="1419.6" y="746.7" font-size="16.2" textLength="21.6" lengthAdjust="spacingAndGlyphs">0 h</text>
<rect x="1390" y="758.1" width="18.9" height="9.5" fill="url(#dot)" stroke="#000" stroke-width="2.8"/>
<text x="1417.6" y="767.6" font-size="16.2" textLength="29.8" lengthAdjust="spacingAndGlyphs">48 h</text>
<line x1="55.5" y1="1242.75" x2="55.5" y2="1432.2" stroke="#000" stroke-width="2"/>
<line x1="49.5" y1="1431.2" x2="335.5" y2="1431.2" stroke="#000" stroke-width="2"/>
<text x="48" y="1436.1" font-size="13.6" font-weight="bold" text-anchor="end">0.0</text>
<line x1="49.5" y1="1368.6" x2="55.5" y2="1368.6" stroke="#000" stroke-width="2"/>
<text x="48" y="1373.5" font-size="13.6" font-weight="bold" text-anchor="end">0.5</text>
<line x1="49.5" y1="1306.2" x2="55.5" y2="1306.2" stroke="#000" stroke-width="2"/>
<text x="48" y="1311.1" font-size="13.6" font-weight="bold" text-anchor="end">1.0</text>
<line x1="49.5" y1="1243.75" x2="55.5" y2="1243.75" stroke="#000" stroke-width="2"/>
<text x="48" y="1248.65" font-size="13.6" font-weight="bold" text-anchor="end">1.5</text>
<text x="19.76" y="1333" font-size="13.5" font-weight="bold" text-anchor="middle" textLength="178.5" lengthAdjust="spacing" transform="rotate(-90 19.76 1333)">Relative mRNA expression</text>
<rect x="66.8" y="1306.8" width="46.7" height="123.4" fill="#fff"/>
<path d="M66.8 1431.2V1306.8H113.5V1431.2" fill="none" stroke="#000" stroke-width="3" stroke-linejoin="miter"/>
<rect x="136.8" y="1290.8" width="46.7" height="139.4" fill="#fff"/>
<path d="M136.8 1431.2V1290.8H183.5V1431.2" fill="none" stroke="#000" stroke-width="3" stroke-linejoin="miter"/>
<rect x="207" y="1394.5" width="46.5" height="35.7" fill="url(#chk)"/>
<path d="M207 1431.2V1394.5H253.5V1431.2" fill="none" stroke="#000" stroke-width="3" stroke-linejoin="miter"/>
<rect x="277" y="1349.8" width="46.5" height="80.4" fill="url(#chk)"/>
<path d="M277 1431.2V1349.8H323.5V1431.2" fill="none" stroke="#000" stroke-width="3" stroke-linejoin="miter"/>
<line x1="79" y1="1305.9" x2="101" y2="1305.9" stroke="#000" stroke-width="3" stroke-linecap="round"/>
<line x1="149" y1="1288.9" x2="171" y2="1288.9" stroke="#000" stroke-width="3" stroke-linecap="round"/>
<line x1="219" y1="1393.3" x2="241" y2="1393.3" stroke="#000" stroke-width="3" stroke-linecap="round"/>
<line x1="289" y1="1349.3" x2="311" y2="1349.3" stroke="#000" stroke-width="3" stroke-linecap="round"/>
<line x1="90" y1="1431.2" x2="90" y2="1437.2" stroke="#000" stroke-width="2"/>
<line x1="160" y1="1431.2" x2="160" y2="1437.2" stroke="#000" stroke-width="2"/>
<line x1="230" y1="1431.2" x2="230" y2="1437.2" stroke="#000" stroke-width="2"/>
<line x1="300" y1="1431.2" x2="300" y2="1437.2" stroke="#000" stroke-width="2"/>
<path d="M89.5 1263.4V1248.4H153.75V1263.4" fill="none" stroke="#000" stroke-width="3.2" stroke-linecap="round" stroke-linejoin="round"/>
<text x="113.68" y="1235.39" font-size="26">*</text>
<path d="M174 1261.9V1247.6H298.25V1261.9" fill="none" stroke="#000" stroke-width="3.2" stroke-linecap="round" stroke-linejoin="round"/>
<text x="226.07" y="1234.64" font-size="26" letter-spacing="1.6">**</text>
<path d="M234 1318.9V1304.4H301.25V1318.9" fill="none" stroke="#000" stroke-width="3.2" stroke-linecap="round" stroke-linejoin="round"/>
<text x="254.57" y="1293.89" font-size="26" letter-spacing="1.6">**</text>
<text x="93.75" y="1451.5" font-size="14.4" font-weight="bold" text-anchor="end" transform="rotate(-45 93.75 1451.5)">mono-culture</text>
<text x="163.75" y="1451.5" font-size="14.4" font-weight="bold" text-anchor="end" transform="rotate(-45 163.75 1451.5)">co-culture</text>
<text x="233.75" y="1451.5" font-size="14.4" font-weight="bold" text-anchor="end" transform="rotate(-45 233.75 1451.5)">mono-culture</text>
<text x="303.75" y="1451.5" font-size="14.4" font-weight="bold" text-anchor="end" transform="rotate(-45 303.75 1451.5)">co-culture</text>
<line x1="72.75" y1="1522.5" x2="168" y2="1522.5" stroke="#000" stroke-width="3" stroke-linecap="round"/>
<line x1="217.75" y1="1520.75" x2="313.5" y2="1520.75" stroke="#000" stroke-width="3" stroke-linecap="round"/>
<text x="116" y="1542.5" font-size="17.7" text-anchor="middle">control</text>
<text x="263.5" y="1542.5" font-size="17.7" text-anchor="middle">siERRα</text>
<line x1="489.25" y1="1222.25" x2="489.25" y2="1432.6" stroke="#000" stroke-width="2"/>
<line x1="483.25" y1="1431.6" x2="801.75" y2="1431.6" stroke="#000" stroke-width="2"/>
<text x="481.5" y="1436.86" font-size="14.6" font-weight="bold" text-anchor="end">0.0</text>
<line x1="483.25" y1="1362.1" x2="489.25" y2="1362.1" stroke="#000" stroke-width="2"/>
<text x="481.5" y="1367.36" font-size="14.6" font-weight="bold" text-anchor="end">0.5</text>
<line x1="483.25" y1="1292.7" x2="489.25" y2="1292.7" stroke="#000" stroke-width="2"/>
<text x="481.5" y="1297.96" font-size="14.6" font-weight="bold" text-anchor="end">1.0</text>
<line x1="483.25" y1="1223.25" x2="489.25" y2="1223.25" stroke="#000" stroke-width="2"/>
<text x="481.5" y="1228.51" font-size="14.6" font-weight="bold" text-anchor="end">1.5</text>
<text x="449.67" y="1327" font-size="14.5" font-weight="bold" text-anchor="middle" textLength="191.5" lengthAdjust="spacing" transform="rotate(-90 449.67 1327)">Relative mRNA expression</text>
<rect x="496.05" y="1293.05" width="27.9" height="137.55" fill="#fff"/>
<path d="M496.05 1431.6V1293.05H523.95V1431.6" fill="none" stroke="#000" stroke-width="3.1" stroke-linejoin="miter"/>
<rect x="538.55" y="1328.95" width="28.2" height="101.65" fill="url(#chk2)"/>
<path d="M538.55 1431.6V1328.95H566.75V1431.6" fill="none" stroke="#000" stroke-width="3.1" stroke-linejoin="miter"/>
<rect x="609.35" y="1293.05" width="27.9" height="137.55" fill="#fff"/>
<path d="M609.35 1431.6V1293.05H637.25V1431.6" fill="none" stroke="#000" stroke-width="3.1" stroke-linejoin="miter"/>
<rect x="651.55" y="1288.65" width="28.4" height="141.95" fill="url(#chk2)"/>
<path d="M651.55 1431.6V1288.65H679.95V1431.6" fill="none" stroke="#000" stroke-width="3.1" stroke-linejoin="miter"/>
<rect x="722.85" y="1293.05" width="27.9" height="137.55" fill="#fff"/>
<path d="M722.85 1431.6V1293.05H750.75V1431.6" fill="none" stroke="#000" stroke-width="3.1" stroke-linejoin="miter"/>
<rect x="765.25" y="1324.35" width="28.2" height="106.25" fill="url(#chk2)"/>
<path d="M765.25 1431.6V1324.35H793.45V1431.6" fill="none" stroke="#000" stroke-width="3.1" stroke-linejoin="miter"/>
<line x1="510" y1="1288.7" x2="510" y2="1292.5" stroke="#000" stroke-width="3"/>
<line x1="504" y1="1288.7" x2="516" y2="1288.7" stroke="#000" stroke-width="3" stroke-linecap="round"/>
<line x1="546.5" y1="1327.9" x2="558.5" y2="1327.9" stroke="#000" stroke-width="3" stroke-linecap="round"/>
<line x1="617.2" y1="1291.5" x2="629.2" y2="1291.5" stroke="#000" stroke-width="3" stroke-linecap="round"/>
<line x1="659.8" y1="1287.1" x2="671.8" y2="1287.1" stroke="#000" stroke-width="3" stroke-linecap="round"/>
<line x1="730.8" y1="1291.5" x2="742.8" y2="1291.5" stroke="#000" stroke-width="3" stroke-linecap="round"/>
<line x1="773.3" y1="1322.5" x2="785.3" y2="1322.5" stroke="#000" stroke-width="3" stroke-linecap="round"/>
<line x1="509.5" y1="1431.6" x2="509.5" y2="1437.6" stroke="#000" stroke-width="2"/>
<line x1="552.5" y1="1431.6" x2="552.5" y2="1437.6" stroke="#000" stroke-width="2"/>
<line x1="623.25" y1="1431.6" x2="623.25" y2="1437.6" stroke="#000" stroke-width="2"/>
<line x1="665.75" y1="1431.6" x2="665.75" y2="1437.6" stroke="#000" stroke-width="2"/>
<line x1="736.75" y1="1431.6" x2="736.75" y2="1437.6" stroke="#000" stroke-width="2"/>
<line x1="779.5" y1="1431.6" x2="779.5" y2="1437.6" stroke="#000" stroke-width="2"/>
<path d="M510 1250.4V1232H553.75V1250.4" fill="none" stroke="#000" stroke-width="3.2" stroke-linecap="round" stroke-linejoin="round"/>
<text x="520.82" y="1223.39" font-size="26" letter-spacing="1.6">**</text>
<path d="M737 1250.9V1232.5H780.5V1250.9" fill="none" stroke="#000" stroke-width="3.2" stroke-linecap="round" stroke-linejoin="round"/>
<text x="743.57" y="1222.64" font-size="26" letter-spacing="1.6">**</text>
<text x="514" y="1452.5" font-size="16" font-weight="bold" text-anchor="end" transform="rotate(-45 514 1452.5)">control</text>
<text x="627.75" y="1452.5" font-size="16" font-weight="bold" text-anchor="end" transform="rotate(-45 627.75 1452.5)">control</text>
<text x="741.25" y="1452.5" font-size="16" font-weight="bold" text-anchor="end" transform="rotate(-45 741.25 1452.5)">control</text>
<text x="557" y="1452.5" font-size="16" font-weight="bold" text-anchor="end" transform="rotate(-45 557 1452.5)">siERRα</text>
<text x="670.25" y="1452.5" font-size="16" font-weight="bold" text-anchor="end" transform="rotate(-45 670.25 1452.5)">siERRα</text>
<text x="784" y="1452.5" font-size="16" font-weight="bold" text-anchor="end" transform="rotate(-45 784 1452.5)">siERRα</text>
<line x1="1142" y1="1239" x2="1142" y2="1431" stroke="#000" stroke-width="2"/>
<line x1="1136" y1="1430" x2="1426.75" y2="1430" stroke="#000" stroke-width="2"/>
<text x="1134.5" y="1435.04" font-size="14" font-weight="bold" text-anchor="end">0.0</text>
<line x1="1136" y1="1382.5" x2="1142" y2="1382.5" stroke="#000" stroke-width="2"/>
<text x="1134.5" y="1387.54" font-size="14" font-weight="bold" text-anchor="end">0.5</text>
<line x1="1136" y1="1335" x2="1142" y2="1335" stroke="#000" stroke-width="2"/>
<text x="1134.5" y="1340.04" font-size="14" font-weight="bold" text-anchor="end">1.0</text>
<line x1="1136" y1="1287.5" x2="1142" y2="1287.5" stroke="#000" stroke-width="2"/>
<text x="1134.5" y="1292.54" font-size="14" font-weight="bold" text-anchor="end">1.5</text>
<line x1="1136" y1="1240" x2="1142" y2="1240" stroke="#000" stroke-width="2"/>
<text x="1134.5" y="1245.04" font-size="14" font-weight="bold" text-anchor="end">2.0</text>
<text x="1106.01" y="1333.5" font-size="13.5" font-weight="bold" text-anchor="middle" textLength="175" lengthAdjust="spacing" transform="rotate(-90 1106.01 1333.5)">Relative mRNA expression</text>
<rect x="1153.8" y="1334.8" width="46.7" height="94.2" fill="#fff"/>
<path d="M1153.8 1430V1334.8H1200.5V1430" fill="none" stroke="#000" stroke-width="3" stroke-linejoin="miter"/>
<rect x="1225" y="1273.3" width="46.8" height="155.7" fill="#fff"/>
<path d="M1225 1430V1273.3H1271.8V1430" fill="none" stroke="#000" stroke-width="3" stroke-linejoin="miter"/>
<rect x="1296.3" y="1378.8" width="47.1" height="50.2" fill="url(#chk)"/>
<path d="M1296.3 1430V1378.8H1343.4V1430" fill="none" stroke="#000" stroke-width="3" stroke-linejoin="miter"/>
<rect x="1367.5" y="1358.8" width="47" height="70.2" fill="url(#chk)"/>
<path d="M1367.5 1430V1358.8H1414.5V1430" fill="none" stroke="#000" stroke-width="3" stroke-linejoin="miter"/>
<line x1="1165.5" y1="1334.1" x2="1188.5" y2="1334.1" stroke="#000" stroke-width="3" stroke-linecap="round"/>
<line x1="1248.2" y1="1268.1" x2="1248.2" y2="1273" stroke="#000" stroke-width="3"/>
<line x1="1236.7" y1="1268.1" x2="1259.7" y2="1268.1" stroke="#000" stroke-width="3" stroke-linecap="round"/>
<line x1="1308.1" y1="1377.5" x2="1331.1" y2="1377.5" stroke="#000" stroke-width="3" stroke-linecap="round"/>
<line x1="1379.2" y1="1357.1" x2="1402.2" y2="1357.1" stroke="#000" stroke-width="3" stroke-linecap="round"/>
<line x1="1177" y1="1430" x2="1177" y2="1436" stroke="#000" stroke-width="2"/>
<line x1="1248.25" y1="1430" x2="1248.25" y2="1436" stroke="#000" stroke-width="2"/>
<line x1="1319.5" y1="1430" x2="1319.5" y2="1436" stroke="#000" stroke-width="2"/>
<line x1="1390.75" y1="1430" x2="1390.75" y2="1436" stroke="#000" stroke-width="2"/>
<path d="M1176.5 1246.9V1229.4H1241V1246.9" fill="none" stroke="#000" stroke-width="3.2" stroke-linecap="round" stroke-linejoin="round"/>
<text x="1191.57" y="1221.39" font-size="26" letter-spacing="1.6">**</text>
<path d="M1264.3 1242.9V1226H1391.25V1242.9" fill="none" stroke="#000" stroke-width="3.2" stroke-linecap="round" stroke-linejoin="round"/>
<text x="1316.57" y="1218.39" font-size="26" letter-spacing="1.6">**</text>
<path d="M1321.3 1305.4V1287.6H1392.5V1305.4" fill="none" stroke="#000" stroke-width="3.2" stroke-linecap="round" stroke-linejoin="round"/>
<text x="1349.43" y="1282.64" font-size="26">*</text>
<text x="1180.75" y="1450.5" font-size="14.4" font-weight="bold" text-anchor="end" transform="rotate(-45 1180.75 1450.5)">mono-culture</text>
<text x="1252" y="1450.5" font-size="14.4" font-weight="bold" text-anchor="end" transform="rotate(-45 1252 1450.5)">co-culture</text>
<text x="1323.25" y="1450.5" font-size="14.4" font-weight="bold" text-anchor="end" transform="rotate(-45 1323.25 1450.5)">mono-culture</text>
<text x="1394.5" y="1450.5" font-size="14.4" font-weight="bold" text-anchor="end" transform="rotate(-45 1394.5 1450.5)">co-culture</text>
<line x1="1163.5" y1="1523.75" x2="1261" y2="1523.75" stroke="#000" stroke-width="3" stroke-linecap="round"/>
<line x1="1311.5" y1="1523.75" x2="1409.25" y2="1523.75" stroke="#000" stroke-width="3" stroke-linecap="round"/>
<text x="1207.75" y="1544.25" font-size="18.2" text-anchor="middle">control</text>
<text x="1359" y="1545" font-size="18.2" text-anchor="middle">siERRα</text>
<line x1="1569.25" y1="1216" x2="1569.25" y2="1429.4" stroke="#000" stroke-width="2"/>
<line x1="1563.25" y1="1428.4" x2="1888" y2="1428.4" stroke="#000" stroke-width="2"/>
<text x="1561.2" y="1433.66" font-size="14.6" font-weight="bold" text-anchor="end">0.0</text>
<line x1="1563.25" y1="1358" x2="1569.25" y2="1358" stroke="#000" stroke-width="2"/>
<text x="1561.2" y="1363.26" font-size="14.6" font-weight="bold" text-anchor="end">0.5</text>
<line x1="1563.25" y1="1287.5" x2="1569.25" y2="1287.5" stroke="#000" stroke-width="2"/>
<text x="1561.2" y="1292.76" font-size="14.6" font-weight="bold" text-anchor="end">1.0</text>
<line x1="1563.25" y1="1217" x2="1569.25" y2="1217" stroke="#000" stroke-width="2"/>
<text x="1561.2" y="1222.26" font-size="14.6" font-weight="bold" text-anchor="end">1.5</text>
<text x="1529.17" y="1322" font-size="14.5" font-weight="bold" text-anchor="middle" textLength="193.5" lengthAdjust="spacing" transform="rotate(-90 1529.17 1322)">Relative mRNA expression</text>
<rect x="1577.05" y="1287.75" width="28.4" height="139.65" fill="#fff"/>
<path d="M1577.05 1428.4V1287.75H1605.45V1428.4" fill="none" stroke="#000" stroke-width="3.1" stroke-linejoin="miter"/>
<rect x="1619.85" y="1328.45" width="28.8" height="98.95" fill="url(#chk2)"/>
<path d="M1619.85 1428.4V1328.45H1648.65V1428.4" fill="none" stroke="#000" stroke-width="3.1" stroke-linejoin="miter"/>
<rect x="1692.55" y="1287.75" width="28.1" height="139.65" fill="#fff"/>
<path d="M1692.55 1428.4V1287.75H1720.65V1428.4" fill="none" stroke="#000" stroke-width="3.1" stroke-linejoin="miter"/>
<rect x="1734.95" y="1358.85" width="28.9" height="68.55" fill="url(#chk2)"/>
<path d="M1734.95 1428.4V1358.85H1763.85V1428.4" fill="none" stroke="#000" stroke-width="3.1" stroke-linejoin="miter"/>
<rect x="1807.55" y="1287.75" width="28.2" height="139.65" fill="#fff"/>
<path d="M1807.55 1428.4V1287.75H1835.75V1428.4" fill="none" stroke="#000" stroke-width="3.1" stroke-linejoin="miter"/>
<rect x="1850.25" y="1325.85" width="28.5" height="101.55" fill="url(#chk2)"/>
<path d="M1850.25 1428.4V1325.85H1878.75V1428.4" fill="none" stroke="#000" stroke-width="3.1" stroke-linejoin="miter"/>
<line x1="1591.3" y1="1280.5" x2="1591.3" y2="1287.5" stroke="#000" stroke-width="3"/>
<line x1="1584.8" y1="1280.5" x2="1597.8" y2="1280.5" stroke="#000" stroke-width="3" stroke-linecap="round"/>
<line x1="1634.2" y1="1325.5" x2="1634.2" y2="1328" stroke="#000" stroke-width="3"/>
<line x1="1627.7" y1="1325.5" x2="1640.7" y2="1325.5" stroke="#000" stroke-width="3" stroke-linecap="round"/>
<line x1="1700" y1="1285.9" x2="1713" y2="1285.9" stroke="#000" stroke-width="3" stroke-linecap="round"/>
<line x1="1742.9" y1="1356.9" x2="1755.9" y2="1356.9" stroke="#000" stroke-width="3" stroke-linecap="round"/>
<line x1="1815.1" y1="1285.9" x2="1828.1" y2="1285.9" stroke="#000" stroke-width="3" stroke-linecap="round"/>
<line x1="1858" y1="1325.1" x2="1871" y2="1325.1" stroke="#000" stroke-width="3" stroke-linecap="round"/>
<line x1="1591" y1="1428.4" x2="1591" y2="1434.4" stroke="#000" stroke-width="2"/>
<line x1="1634.25" y1="1428.4" x2="1634.25" y2="1434.4" stroke="#000" stroke-width="2"/>
<line x1="1706" y1="1428.4" x2="1706" y2="1434.4" stroke="#000" stroke-width="2"/>
<line x1="1749.25" y1="1428.4" x2="1749.25" y2="1434.4" stroke="#000" stroke-width="2"/>
<line x1="1821.5" y1="1428.4" x2="1821.5" y2="1434.4" stroke="#000" stroke-width="2"/>
<line x1="1864.75" y1="1428.4" x2="1864.75" y2="1434.4" stroke="#000" stroke-width="2"/>
<path d="M1591.3 1246.6V1227.5H1635.5V1246.6" fill="none" stroke="#000" stroke-width="3.2" stroke-linecap="round" stroke-linejoin="round"/>
<text x="1601.32" y="1215.14" font-size="26" letter-spacing="1.6">**</text>
<path d="M1707.5 1244.6V1226.1H1751.75V1244.6" fill="none" stroke="#000" stroke-width="3.2" stroke-linecap="round" stroke-linejoin="round"/>
<text x="1717.57" y="1215.14" font-size="26" letter-spacing="1.6">**</text>
<path d="M1822.5 1243.2V1224H1866.75V1243.2" fill="none" stroke="#000" stroke-width="3.2" stroke-linecap="round" stroke-linejoin="round"/>
<text x="1830.82" y="1215.14" font-size="26" letter-spacing="1.6">**</text>
<text x="1595.5" y="1451.5" font-size="16" font-weight="bold" text-anchor="end" transform="rotate(-45 1595.5 1451.5)">control</text>
<text x="1710.5" y="1451.5" font-size="16" font-weight="bold" text-anchor="end" transform="rotate(-45 1710.5 1451.5)">control</text>
<text x="1826" y="1451.5" font-size="16" font-weight="bold" text-anchor="end" transform="rotate(-45 1826 1451.5)">control</text>
<text x="1638.75" y="1451.5" font-size="16" font-weight="bold" text-anchor="end" transform="rotate(-45 1638.75 1451.5)">siERRα</text>
<text x="1753.75" y="1451.5" font-size="16" font-weight="bold" text-anchor="end" transform="rotate(-45 1753.75 1451.5)">siERRα</text>
<text x="1869.25" y="1451.5" font-size="16" font-weight="bold" text-anchor="end" transform="rotate(-45 1869.25 1451.5)">siERRα</text>
<text x="642.5" y="647.5" font-size="14.5" text-anchor="middle" textLength="16.5" lengthAdjust="spacingAndGlyphs">0h</text>
<text x="767.5" y="645.5" font-size="14.5" text-anchor="middle" textLength="28.5" lengthAdjust="spacingAndGlyphs">48 h</text>
<text x="443" y="753.75" font-size="15.5" textLength="47" lengthAdjust="spacingAndGlyphs">control</text>
<text x="426.25" y="939.25" font-size="15.5" textLength="90" lengthAdjust="spacingAndGlyphs">ERRα/PGC-1α</text>
<line x1="522" y1="684" x2="522" y2="817" stroke="#000" stroke-width="2.6" stroke-linecap="round"/>
<line x1="522" y1="860.25" x2="522" y2="993.25" stroke="#000" stroke-width="2.6" stroke-linecap="round"/>
<text x="535.5" y="700" font-size="15.5" textLength="43" lengthAdjust="spacingAndGlyphs">mono-</text>
<text x="535.5" y="719.5" font-size="15.5" textLength="46.5" lengthAdjust="spacingAndGlyphs">culture</text>
<text x="535.5" y="783.75" font-size="15.5" textLength="20" lengthAdjust="spacingAndGlyphs">co-</text>
<text x="535.5" y="803.75" font-size="15.5" textLength="46.5" lengthAdjust="spacingAndGlyphs">culture</text>
<text x="535.5" y="876.25" font-size="15.5" textLength="43" lengthAdjust="spacingAndGlyphs">mono-</text>
<text x="535.5" y="895.5" font-size="15.5" textLength="46.5" lengthAdjust="spacingAndGlyphs">culture</text>
<text x="535.5" y="960.75" font-size="15.5" textLength="20" lengthAdjust="spacingAndGlyphs">co-</text>
<text x="535.5" y="980.5" font-size="15.5" textLength="46.5" lengthAdjust="spacingAndGlyphs">culture</text>
<linearGradient id="g1" x1="0" y1="0" x2="1" y2="0"><stop offset="0" stop-color="#9ea89a"/><stop offset="0.16" stop-color="#9ca698"/><stop offset="0.87" stop-color="#9ca698"/><stop offset="1" stop-color="#848e80"/></linearGradient>
<rect x="593.4" y="663.4" width="113.6" height="79.2" fill="url(#g1)"/>
<linearGradient id="g1v" x1="0" y1="0" x2="0" y2="1"><stop offset="0" stop-color="#fff" stop-opacity="0.03"/><stop offset="0.5" stop-color="#000" stop-opacity="0"/><stop offset="1" stop-color="#000" stop-opacity="0.1"/></linearGradient>
<rect x="593.4" y="663.4" width="113.6" height="79.2" fill="url(#g1v)"/>
<rect x="594.4" y="664.4" width="111.6" height="77.2" filter="url(#nz)" opacity="0.3"/>
<rect x="594.4" y="664.4" width="13" height="77.2" filter="url(#nz2)" opacity="0.3" style="mix-blend-mode:overlay"/>
<rect x="695.9" y="664.4" width="10.1" height="77.2" filter="url(#nz2)" opacity="0.3" style="mix-blend-mode:overlay"/>
<circle cx="658" cy="699.11" r="1.05" fill="#222" opacity="0.45"/><circle cx="657.4" cy="698.51" r="0.84" fill="#fff" opacity="0.6"/>
<line x1="605.4" y1="665.6" x2="605.4" y2="741.1" stroke="#fbfbf4" stroke-width="1.8" stroke-dasharray="4.4 2.1" opacity="0.93"/>
<line x1="697.9" y1="665.6" x2="697.9" y2="741.1" stroke="#fbfbf4" stroke-width="1.8" stroke-dasharray="4.4 2.1" opacity="0.93"/>
<rect x="594" y="664" width="112.4" height="78" fill="none" stroke="#15150f" stroke-width="1.2"/>
<linearGradient id="g2" x1="0" y1="0" x2="1" y2="0"><stop offset="0" stop-color="#787860"/><stop offset="0.24" stop-color="#979a88"/><stop offset="0.78" stop-color="#979a88"/><stop offset="1" stop-color="#939680"/></linearGradient>
<rect x="716" y="664" width="113.8" height="79" fill="url(#g2)"/>
<linearGradient id="g2v" x1="0" y1="0" x2="0" y2="1"><stop offset="0" stop-color="#000" stop-opacity="0.05"/><stop offset="0.5" stop-color="#000" stop-opacity="0"/><stop offset="1" stop-color="#000" stop-opacity="0.03"/></linearGradient>
<rect x="716" y="664" width="113.8" height="79" fill="url(#g2v)"/>
<rect x="717" y="665" width="111.8" height="77" filter="url(#nz)" opacity="0.3"/>
<rect x="717" y="665" width="22.1" height="77" filter="url(#nz2)" opacity="0.45" style="mix-blend-mode:overlay"/>
<rect x="808.6" y="665" width="20.2" height="77" filter="url(#nz2)" opacity="0.45" style="mix-blend-mode:overlay"/>
<line x1="737.1" y1="666.2" x2="737.1" y2="741.5" stroke="#fbfbf4" stroke-width="1.8" stroke-dasharray="4.4 2.1" opacity="0.93"/>
<line x1="810.6" y1="666.2" x2="810.6" y2="741.5" stroke="#fbfbf4" stroke-width="1.8" stroke-dasharray="4.4 2.1" opacity="0.93"/>
<rect x="716.6" y="664.6" width="112.6" height="77.8" fill="none" stroke="#15150f" stroke-width="1.2"/>
<linearGradient id="g3" x1="0" y1="0" x2="1" y2="0"><stop offset="0" stop-color="#949e86"/><stop offset="0.19" stop-color="#9ca58d"/><stop offset="0.82" stop-color="#9ca58d"/><stop offset="1" stop-color="#808871"/></linearGradient>
<rect x="591.8" y="751" width="113.2" height="78.7" fill="url(#g3)"/>
<linearGradient id="g3v" x1="0" y1="0" x2="0" y2="1"><stop offset="0" stop-color="#fff" stop-opacity="0"/><stop offset="0.5" stop-color="#000" stop-opacity="0"/><stop offset="1" stop-color="#000" stop-opacity="0.08"/></linearGradient>
<rect x="591.8" y="751" width="113.2" height="78.7" fill="url(#g3v)"/>
<rect x="592.8" y="752" width="111.2" height="76.7" filter="url(#nz)" opacity="0.3"/>
<rect x="592.8" y="752" width="16.6" height="76.7" filter="url(#nz2)" opacity="0.4" style="mix-blend-mode:overlay"/>
<rect x="688" y="752" width="16" height="76.7" filter="url(#nz2)" opacity="0.4" style="mix-blend-mode:overlay"/>
<circle cx="664.29" cy="812.26" r="0.81" fill="#222" opacity="0.45"/><circle cx="663.69" cy="811.66" r="0.65" fill="#fff" opacity="0.6"/>
<line x1="607.4" y1="753.2" x2="607.4" y2="828.2" stroke="#fbfbf4" stroke-width="1.8" stroke-dasharray="4.4 2.1" opacity="0.93"/>
<line x1="690" y1="753.2" x2="690" y2="828.2" stroke="#fbfbf4" stroke-width="1.8" stroke-dasharray="4.4 2.1" opacity="0.93"/>
<rect x="592.4" y="751.6" width="112" height="77.5" fill="none" stroke="#15150f" stroke-width="1.2"/>
<linearGradient id="g4" x1="0" y1="0" x2="1" y2="0"><stop offset="0" stop-color="#949783"/><stop offset="0.28" stop-color="#9ba090"/><stop offset="0.7" stop-color="#9ba090"/><stop offset="1" stop-color="#8a8b77"/></linearGradient>
<rect x="716" y="751" width="113.8" height="79.1" fill="url(#g4)"/>
<linearGradient id="g4v" x1="0" y1="0" x2="0" y2="1"><stop offset="0" stop-color="#fff" stop-opacity="0"/><stop offset="0.5" stop-color="#000" stop-opacity="0"/><stop offset="1" stop-color="#000" stop-opacity="0.04"/></linearGradient>
<rect x="716" y="751" width="113.8" height="79.1" fill="url(#g4v)"/>
<rect x="717" y="752" width="111.8" height="77.1" filter="url(#nz)" opacity="0.3"/>
<rect x="717" y="752" width="27" height="77.1" filter="url(#nz2)" opacity="0.5" style="mix-blend-mode:overlay"/>
<rect x="799.5" y="752" width="29.3" height="77.1" filter="url(#nz2)" opacity="0.5" style="mix-blend-mode:overlay"/>
<circle cx="749.18" cy="766.69" r="0.94" fill="#222" opacity="0.45"/><circle cx="748.58" cy="766.09" r="0.75" fill="#fff" opacity="0.6"/>
<circle cx="781.08" cy="768.35" r="0.77" fill="#222" opacity="0.45"/><circle cx="780.48" cy="767.75" r="0.61" fill="#fff" opacity="0.6"/>
<line x1="742" y1="753.2" x2="742" y2="828.6" stroke="#fbfbf4" stroke-width="1.8" stroke-dasharray="4.4 2.1" opacity="0.93"/>
<line x1="801.5" y1="753.2" x2="801.5" y2="828.6" stroke="#fbfbf4" stroke-width="1.8" stroke-dasharray="4.4 2.1" opacity="0.93"/>
<rect x="716.6" y="751.6" width="112.6" height="77.9" fill="none" stroke="#15150f" stroke-width="1.2"/>
<linearGradient id="g5" x1="0" y1="0" x2="1" y2="0"><stop offset="0" stop-color="#788868"/><stop offset="0.1" stop-color="#7c8d6c"/><stop offset="0.88" stop-color="#7c8d6c"/><stop offset="1" stop-color="#829171"/></linearGradient>
<rect x="592.3" y="841.7" width="113.5" height="78.9" fill="url(#g5)"/>
<linearGradient id="g5v" x1="0" y1="0" x2="0" y2="1"><stop offset="0" stop-color="#000" stop-opacity="0.03"/><stop offset="0.5" stop-color="#fff" stop-opacity="0"/><stop offset="1" stop-color="#fff" stop-opacity="0.06"/></linearGradient>
<rect x="592.3" y="841.7" width="113.5" height="78.9" fill="url(#g5v)"/>
<rect x="593.3" y="842.7" width="111.5" height="76.9" filter="url(#nz)" opacity="0.3"/>
<rect x="593.3" y="842.7" width="6.6" height="76.9" filter="url(#nz2)" opacity="0.25" style="mix-blend-mode:overlay"/>
<rect x="695.9" y="842.7" width="8.9" height="76.9" filter="url(#nz2)" opacity="0.25" style="mix-blend-mode:overlay"/>
<circle cx="660.77" cy="877.29" r="1.13" fill="#222" opacity="0.45"/><circle cx="660.17" cy="876.69" r="0.91" fill="#fff" opacity="0.6"/>
<circle cx="610.33" cy="894.2" r="0.92" fill="#222" opacity="0.45"/><circle cx="609.73" cy="893.6" r="0.74" fill="#fff" opacity="0.6"/>
<circle cx="658.01" cy="861" r="0.91" fill="#222" opacity="0.45"/><circle cx="657.41" cy="860.4" r="0.73" fill="#fff" opacity="0.6"/>
<line x1="597.9" y1="843.9" x2="597.9" y2="919.1" stroke="#fbfbf4" stroke-width="1.8" stroke-dasharray="4.4 2.1" opacity="0.93"/>
<line x1="697.9" y1="843.9" x2="697.9" y2="919.1" stroke="#fbfbf4" stroke-width="1.8" stroke-dasharray="4.4 2.1" opacity="0.93"/>
<rect x="592.9" y="842.3" width="112.3" height="77.7" fill="none" stroke="#15150f" stroke-width="1.2"/>
<linearGradient id="g6" x1="0" y1="0" x2="1" y2="0"><stop offset="0" stop-color="#6e7659"/><stop offset="0.27" stop-color="#838c6f"/><stop offset="0.77" stop-color="#838c6f"/><stop offset="1" stop-color="#798164"/></linearGradient>
<rect x="716" y="841.7" width="113.8" height="78.9" fill="url(#g6)"/>
<linearGradient id="g6v" x1="0" y1="0" x2="0" y2="1"><stop offset="0" stop-color="#fff" stop-opacity="0"/><stop offset="0.5" stop-color="#000" stop-opacity="0"/><stop offset="1" stop-color="#000" stop-opacity="0.15"/></linearGradient>
<rect x="716" y="841.7" width="113.8" height="78.9" fill="url(#g6v)"/>
<rect x="717" y="842.7" width="111.8" height="76.9" filter="url(#nz)" opacity="0.3"/>
<rect x="717" y="842.7" width="26.1" height="76.9" filter="url(#nz2)" opacity="0.5" style="mix-blend-mode:overlay"/>
<rect x="807.5" y="842.7" width="21.3" height="76.9" filter="url(#nz2)" opacity="0.5" style="mix-blend-mode:overlay"/>
<line x1="741.1" y1="843.9" x2="741.1" y2="919.1" stroke="#fbfbf4" stroke-width="1.8" stroke-dasharray="4.4 2.1" opacity="0.93"/>
<line x1="809.5" y1="843.9" x2="809.5" y2="919.1" stroke="#fbfbf4" stroke-width="1.8" stroke-dasharray="4.4 2.1" opacity="0.93"/>
<rect x="716.6" y="842.3" width="112.6" height="77.7" fill="none" stroke="#15150f" stroke-width="1.2"/>
<linearGradient id="g7" x1="0" y1="0" x2="1" y2="0"><stop offset="0" stop-color="#727b5c"/><stop offset="0.14" stop-color="#7f8969"/><stop offset="0.85" stop-color="#7f8969"/><stop offset="1" stop-color="#767f60"/></linearGradient>
<rect x="591.8" y="928.8" width="113.2" height="78.9" fill="url(#g7)"/>
<linearGradient id="g7v" x1="0" y1="0" x2="0" y2="1"><stop offset="0" stop-color="#000" stop-opacity="0.2"/><stop offset="0.5" stop-color="#000" stop-opacity="0"/><stop offset="1" stop-color="#fff" stop-opacity="0"/></linearGradient>
<rect x="591.8" y="928.8" width="113.2" height="78.9" fill="url(#g7v)"/>
<rect x="592.8" y="929.8" width="111.2" height="76.9" filter="url(#nz)" opacity="0.3"/>
<rect x="592.8" y="929.8" width="11.6" height="76.9" filter="url(#nz2)" opacity="0.35" style="mix-blend-mode:overlay"/>
<rect x="692" y="929.8" width="12" height="76.9" filter="url(#nz2)" opacity="0.35" style="mix-blend-mode:overlay"/>
<line x1="602.4" y1="931" x2="602.4" y2="1006.2" stroke="#fbfbf4" stroke-width="1.8" stroke-dasharray="4.4 2.1" opacity="0.93"/>
<line x1="694" y1="931" x2="694" y2="1006.2" stroke="#fbfbf4" stroke-width="1.8" stroke-dasharray="4.4 2.1" opacity="0.93"/>
<rect x="592.4" y="929.4" width="112" height="77.7" fill="none" stroke="#15150f" stroke-width="1.2"/>
<linearGradient id="g8" x1="0" y1="0" x2="1" y2="0"><stop offset="0" stop-color="#748262"/><stop offset="0.27" stop-color="#748366"/><stop offset="0.64" stop-color="#748366"/><stop offset="1" stop-color="#798767"/></linearGradient>
<rect x="715.6" y="927.6" width="114.2" height="79.7" fill="url(#g8)"/>
<rect x="716.6" y="928.6" width="112.2" height="77.7" filter="url(#nz)" opacity="0.3"/>
<rect x="716.6" y="928.6" width="26.5" height="77.7" filter="url(#nz2)" opacity="0.55" style="mix-blend-mode:overlay"/>
<rect x="792.8" y="928.6" width="36" height="77.7" filter="url(#nz2)" opacity="0.55" style="mix-blend-mode:overlay"/>
<circle cx="757.05" cy="995.61" r="1.27" fill="#222" opacity="0.45"/><circle cx="756.45" cy="995.01" r="1.01" fill="#fff" opacity="0.6"/>
<circle cx="748.65" cy="990.15" r="1.13" fill="#222" opacity="0.45"/><circle cx="748.05" cy="989.55" r="0.9" fill="#fff" opacity="0.6"/>
<circle cx="776.05" cy="936.87" r="1.2" fill="#222" opacity="0.45"/><circle cx="775.45" cy="936.27" r="0.96" fill="#fff" opacity="0.6"/>
<line x1="741.1" y1="929.8" x2="741.1" y2="1005.8" stroke="#fbfbf4" stroke-width="1.8" stroke-dasharray="4.4 2.1" opacity="0.93"/>
<line x1="794.8" y1="929.8" x2="794.8" y2="1005.8" stroke="#fbfbf4" stroke-width="1.8" stroke-dasharray="4.4 2.1" opacity="0.93"/>
<rect x="716.2" y="928.2" width="113" height="78.5" fill="none" stroke="#15150f" stroke-width="1.2"/>
<text x="1664" y="649.5" font-size="14.5" text-anchor="middle" textLength="16.5" lengthAdjust="spacingAndGlyphs">0h</text>
<text x="1788.5" y="648" font-size="14.5" text-anchor="middle" textLength="28.5" lengthAdjust="spacingAndGlyphs">48 h</text>
<text x="1465.25" y="755.5" font-size="15.5" textLength="46.25" lengthAdjust="spacingAndGlyphs">control</text>
<text x="1448.5" y="941.75" font-size="15.5" textLength="90" lengthAdjust="spacingAndGlyphs">ERRα/PGC-1α</text>
<line x1="1544" y1="686" x2="1544" y2="818.5" stroke="#000" stroke-width="2.6" stroke-linecap="round"/>
<line x1="1544" y1="862.25" x2="1544" y2="994.75" stroke="#000" stroke-width="2.6" stroke-linecap="round"/>
<text x="1557.25" y="702" font-size="15.5" textLength="43" lengthAdjust="spacingAndGlyphs">mono-</text>
<text x="1557.25" y="721.75" font-size="15.5" textLength="46.5" lengthAdjust="spacingAndGlyphs">culture</text>
<text x="1557.25" y="785.75" font-size="15.5" textLength="20" lengthAdjust="spacingAndGlyphs">co-</text>
<text x="1557.25" y="805.5" font-size="15.5" textLength="46.5" lengthAdjust="spacingAndGlyphs">culture</text>
<text x="1557.25" y="877.5" font-size="15.5" textLength="43" lengthAdjust="spacingAndGlyphs">mono-</text>
<text x="1557.25" y="897.5" font-size="15.5" textLength="46.5" lengthAdjust="spacingAndGlyphs">culture</text>
<text x="1557.25" y="962.5" font-size="15.5" textLength="20" lengthAdjust="spacingAndGlyphs">co-</text>
<text x="1557.25" y="982.5" font-size="15.5" textLength="46.5" lengthAdjust="spacingAndGlyphs">culture</text>
<linearGradient id="g11" x1="0" y1="0" x2="1" y2="0"><stop offset="0" stop-color="#6e7062"/><stop offset="0.15" stop-color="#74776d"/><stop offset="0.86" stop-color="#74776d"/><stop offset="1" stop-color="#727467"/></linearGradient>
<rect x="1615.25" y="665.75" width="112.5" height="78.5" fill="url(#g11)"/>
<linearGradient id="g11v" x1="0" y1="0" x2="0" y2="1"><stop offset="0" stop-color="#fff" stop-opacity="0.03"/><stop offset="0.5" stop-color="#000" stop-opacity="0"/><stop offset="1" stop-color="#000" stop-opacity="0.12"/></linearGradient>
<rect x="1615.25" y="665.75" width="112.5" height="78.5" fill="url(#g11v)"/>
<rect x="1616.25" y="666.75" width="110.5" height="76.5" filter="url(#nz)" opacity="0.3"/>
<rect x="1616.25" y="666.75" width="12.05" height="76.5" filter="url(#nz2)" opacity="0.4" style="mix-blend-mode:overlay"/>
<rect x="1715.9" y="666.75" width="10.85" height="76.5" filter="url(#nz2)" opacity="0.4" style="mix-blend-mode:overlay"/>
<circle cx="1654.51" cy="708.22" r="1.12" fill="#222" opacity="0.45"/><circle cx="1653.91" cy="707.62" r="0.9" fill="#fff" opacity="0.6"/>
<circle cx="1709.2" cy="697.42" r="1.02" fill="#222" opacity="0.45"/><circle cx="1708.6" cy="696.82" r="0.82" fill="#fff" opacity="0.6"/>
<circle cx="1662.73" cy="708.73" r="1.2" fill="#222" opacity="0.45"/><circle cx="1662.13" cy="708.13" r="0.96" fill="#fff" opacity="0.6"/>
<circle cx="1711.93" cy="732.38" r="1.26" fill="#222" opacity="0.45"/><circle cx="1711.33" cy="731.78" r="1.01" fill="#fff" opacity="0.6"/>
<circle cx="1637.23" cy="689.43" r="1.27" fill="#222" opacity="0.45"/><circle cx="1636.63" cy="688.83" r="1.01" fill="#fff" opacity="0.6"/>
<circle cx="1677.7" cy="683.4" r="1.07" fill="#222" opacity="0.45"/><circle cx="1677.1" cy="682.8" r="0.86" fill="#fff" opacity="0.6"/>
<line x1="1626.3" y1="667.95" x2="1626.3" y2="742.75" stroke="#fbfbf4" stroke-width="1.8" stroke-dasharray="4.4 2.1" opacity="0.93"/>
<line x1="1717.9" y1="667.95" x2="1717.9" y2="742.75" stroke="#fbfbf4" stroke-width="1.8" stroke-dasharray="4.4 2.1" opacity="0.93"/>
<rect x="1615.85" y="666.35" width="111.3" height="77.3" fill="none" stroke="#15150f" stroke-width="1.2"/>
<linearGradient id="g12" x1="0" y1="0" x2="1" y2="0"><stop offset="0" stop-color="#676759"/><stop offset="0.21" stop-color="#6c6c62"/><stop offset="0.8" stop-color="#6c6c62"/><stop offset="1" stop-color="#6a6a5c"/></linearGradient>
<rect x="1736.75" y="665.75" width="113" height="78" fill="url(#g12)"/>
<linearGradient id="g12v" x1="0" y1="0" x2="0" y2="1"><stop offset="0" stop-color="#fff" stop-opacity="0"/><stop offset="0.5" stop-color="#000" stop-opacity="0"/><stop offset="1" stop-color="#000" stop-opacity="0.05"/></linearGradient>
<rect x="1736.75" y="665.75" width="113" height="78" fill="url(#g12v)"/>
<rect x="1737.75" y="666.75" width="111" height="76" filter="url(#nz)" opacity="0.3"/>
<rect x="1737.75" y="666.75" width="19.05" height="76" filter="url(#nz2)" opacity="0.5" style="mix-blend-mode:overlay"/>
<rect x="1830.9" y="666.75" width="17.85" height="76" filter="url(#nz2)" opacity="0.5" style="mix-blend-mode:overlay"/>
<circle cx="1771.05" cy="686.08" r="1.2" fill="#222" opacity="0.45"/><circle cx="1770.45" cy="685.48" r="0.96" fill="#fff" opacity="0.6"/>
<circle cx="1797.13" cy="691.76" r="0.9" fill="#222" opacity="0.45"/><circle cx="1796.53" cy="691.16" r="0.72" fill="#fff" opacity="0.6"/>
<circle cx="1797.31" cy="694.67" r="1.13" fill="#222" opacity="0.45"/><circle cx="1796.71" cy="694.07" r="0.9" fill="#fff" opacity="0.6"/>
<circle cx="1769.49" cy="696.9" r="0.87" fill="#222" opacity="0.45"/><circle cx="1768.89" cy="696.3" r="0.69" fill="#fff" opacity="0.6"/>
<circle cx="1811.3" cy="726.2" r="1.01" fill="#222" opacity="0.45"/><circle cx="1810.7" cy="725.6" r="0.81" fill="#fff" opacity="0.6"/>
<circle cx="1820.39" cy="678.66" r="1.1" fill="#222" opacity="0.45"/><circle cx="1819.79" cy="678.06" r="0.88" fill="#fff" opacity="0.6"/>
<line x1="1754.8" y1="667.95" x2="1754.8" y2="742.25" stroke="#fbfbf4" stroke-width="1.8" stroke-dasharray="4.4 2.1" opacity="0.93"/>
<line x1="1832.9" y1="667.95" x2="1832.9" y2="742.25" stroke="#fbfbf4" stroke-width="1.8" stroke-dasharray="4.4 2.1" opacity="0.93"/>
<rect x="1737.35" y="666.35" width="111.8" height="76.8" fill="none" stroke="#15150f" stroke-width="1.2"/>
<linearGradient id="g13" x1="0" y1="0" x2="1" y2="0"><stop offset="0" stop-color="#5e605c"/><stop offset="0.14" stop-color="#626462"/><stop offset="0.87" stop-color="#626462"/><stop offset="1" stop-color="#5e605a"/></linearGradient>
<rect x="1613.5" y="754" width="113.25" height="78.5" fill="url(#g13)"/>
<linearGradient id="g13v" x1="0" y1="0" x2="0" y2="1"><stop offset="0" stop-color="#fff" stop-opacity="0.02"/><stop offset="0.5" stop-color="#000" stop-opacity="0"/><stop offset="1" stop-color="#000" stop-opacity="0.12"/></linearGradient>
<rect x="1613.5" y="754" width="113.25" height="78.5" fill="url(#g13v)"/>
<rect x="1614.5" y="755" width="111.25" height="76.5" filter="url(#nz)" opacity="0.3"/>
<rect x="1614.5" y="755" width="11.1" height="76.5" filter="url(#nz2)" opacity="0.3" style="mix-blend-mode:overlay"/>
<rect x="1715.5" y="755" width="10.25" height="76.5" filter="url(#nz2)" opacity="0.3" style="mix-blend-mode:overlay"/>
<circle cx="1674.98" cy="770.36" r="0.87" fill="#222" opacity="0.45"/><circle cx="1674.38" cy="769.76" r="0.69" fill="#fff" opacity="0.6"/>
<circle cx="1665.47" cy="763.66" r="1" fill="#222" opacity="0.45"/><circle cx="1664.87" cy="763.06" r="0.8" fill="#fff" opacity="0.6"/>
<circle cx="1708.17" cy="789.38" r="1.2" fill="#222" opacity="0.45"/><circle cx="1707.57" cy="788.78" r="0.96" fill="#fff" opacity="0.6"/>
<circle cx="1708.83" cy="763.88" r="0.71" fill="#222" opacity="0.45"/><circle cx="1708.23" cy="763.28" r="0.57" fill="#fff" opacity="0.6"/>
<line x1="1623.6" y1="756.2" x2="1623.6" y2="831" stroke="#fbfbf4" stroke-width="1.8" stroke-dasharray="4.4 2.1" opacity="0.93"/>
<line x1="1717.5" y1="756.2" x2="1717.5" y2="831" stroke="#fbfbf4" stroke-width="1.8" stroke-dasharray="4.4 2.1" opacity="0.93"/>
<rect x="1614.1" y="754.6" width="112.05" height="77.3" fill="none" stroke="#15150f" stroke-width="1.2"/>
<linearGradient id="g14" x1="0" y1="0" x2="1" y2="0"><stop offset="0" stop-color="#929279"/><stop offset="0.2" stop-color="#8b8b79"/><stop offset="0.81" stop-color="#8b8b79"/><stop offset="1" stop-color="#82826e"/></linearGradient>
<rect x="1737.25" y="754" width="113" height="78.5" fill="url(#g14)"/>
<linearGradient id="g14v" x1="0" y1="0" x2="0" y2="1"><stop offset="0" stop-color="#fff" stop-opacity="0.05"/><stop offset="0.5" stop-color="#000" stop-opacity="0"/><stop offset="1" stop-color="#000" stop-opacity="0.1"/></linearGradient>
<rect x="1737.25" y="754" width="113" height="78.5" fill="url(#g14v)"/>
<rect x="1738.25" y="755" width="111" height="76.5" filter="url(#nz)" opacity="0.3"/>
<rect x="1738.25" y="755" width="18.05" height="76.5" filter="url(#nz2)" opacity="0.5" style="mix-blend-mode:overlay"/>
<rect x="1832.7" y="755" width="16.55" height="76.5" filter="url(#nz2)" opacity="0.5" style="mix-blend-mode:overlay"/>
<circle cx="1800.65" cy="774.77" r="1.28" fill="#222" opacity="0.45"/><circle cx="1800.05" cy="774.17" r="1.02" fill="#fff" opacity="0.6"/>
<circle cx="1824.1" cy="791.8" r="1.1" fill="#222" opacity="0.45"/><circle cx="1823.5" cy="791.2" r="0.88" fill="#fff" opacity="0.6"/>
<circle cx="1775.57" cy="776.46" r="0.87" fill="#222" opacity="0.45"/><circle cx="1774.97" cy="775.86" r="0.7" fill="#fff" opacity="0.6"/>
<circle cx="1808.26" cy="775.87" r="1.28" fill="#222" opacity="0.45"/><circle cx="1807.66" cy="775.27" r="1.03" fill="#fff" opacity="0.6"/>
<circle cx="1765.71" cy="774.68" r="0.75" fill="#222" opacity="0.45"/><circle cx="1765.11" cy="774.08" r="0.6" fill="#fff" opacity="0.6"/>
<circle cx="1813.56" cy="785.51" r="0.98" fill="#222" opacity="0.45"/><circle cx="1812.96" cy="784.91" r="0.79" fill="#fff" opacity="0.6"/>
<circle cx="1783.2" cy="802.44" r="0.94" fill="#222" opacity="0.45"/><circle cx="1782.6" cy="801.84" r="0.75" fill="#fff" opacity="0.6"/>
<circle cx="1775.15" cy="789.48" r="0.88" fill="#222" opacity="0.45"/><circle cx="1774.55" cy="788.88" r="0.71" fill="#fff" opacity="0.6"/>
<circle cx="1768.48" cy="814.06" r="1.11" fill="#222" opacity="0.45"/><circle cx="1767.88" cy="813.46" r="0.89" fill="#fff" opacity="0.6"/>
<circle cx="1806.37" cy="817.75" r="0.94" fill="#222" opacity="0.45"/><circle cx="1805.77" cy="817.15" r="0.75" fill="#fff" opacity="0.6"/>
<line x1="1754.3" y1="756.2" x2="1754.3" y2="831" stroke="#fbfbf4" stroke-width="1.8" stroke-dasharray="4.4 2.1" opacity="0.93"/>
<line x1="1834.7" y1="756.2" x2="1834.7" y2="831" stroke="#fbfbf4" stroke-width="1.8" stroke-dasharray="4.4 2.1" opacity="0.93"/>
<rect x="1737.85" y="754.6" width="111.8" height="77.3" fill="none" stroke="#15150f" stroke-width="1.2"/>
<linearGradient id="g15" x1="0" y1="0" x2="1" y2="0"><stop offset="0" stop-color="#797e61"/><stop offset="0.16" stop-color="#7b8165"/><stop offset="0.86" stop-color="#7b8165"/><stop offset="1" stop-color="#797e62"/></linearGradient>
<rect x="1613" y="842.5" width="113.25" height="78.75" fill="url(#g15)"/>
<linearGradient id="g15v" x1="0" y1="0" x2="0" y2="1"><stop offset="0" stop-color="#000" stop-opacity="0.03"/><stop offset="0.5" stop-color="#000" stop-opacity="0"/><stop offset="1" stop-color="#fff" stop-opacity="0"/></linearGradient>
<rect x="1613" y="842.5" width="113.25" height="78.75" fill="url(#g15v)"/>
<rect x="1614" y="843.5" width="111.25" height="76.75" filter="url(#nz)" opacity="0.3"/>
<rect x="1614" y="843.5" width="13.2" height="76.75" filter="url(#nz2)" opacity="0.4" style="mix-blend-mode:overlay"/>
<rect x="1714.3" y="843.5" width="10.95" height="76.75" filter="url(#nz2)" opacity="0.4" style="mix-blend-mode:overlay"/>
<circle cx="1642.12" cy="902.28" r="1.23" fill="#222" opacity="0.45"/><circle cx="1641.52" cy="901.68" r="0.98" fill="#fff" opacity="0.6"/>
<circle cx="1662.26" cy="868.45" r="0.82" fill="#222" opacity="0.45"/><circle cx="1661.66" cy="867.85" r="0.65" fill="#fff" opacity="0.6"/>
<circle cx="1638.2" cy="864.58" r="0.82" fill="#222" opacity="0.45"/><circle cx="1637.6" cy="863.98" r="0.66" fill="#fff" opacity="0.6"/>
<circle cx="1699.34" cy="863.06" r="0.81" fill="#222" opacity="0.45"/><circle cx="1698.74" cy="862.46" r="0.65" fill="#fff" opacity="0.6"/>
<circle cx="1705.2" cy="908.65" r="0.76" fill="#222" opacity="0.45"/><circle cx="1704.6" cy="908.05" r="0.61" fill="#fff" opacity="0.6"/>
<circle cx="1657.33" cy="913.14" r="0.93" fill="#222" opacity="0.45"/><circle cx="1656.73" cy="912.54" r="0.75" fill="#fff" opacity="0.6"/>
<circle cx="1681.45" cy="894.49" r="1.09" fill="#222" opacity="0.45"/><circle cx="1680.85" cy="893.89" r="0.87" fill="#fff" opacity="0.6"/>
<circle cx="1636.18" cy="896.47" r="1.19" fill="#222" opacity="0.45"/><circle cx="1635.58" cy="895.87" r="0.95" fill="#fff" opacity="0.6"/>
<line x1="1625.2" y1="844.7" x2="1625.2" y2="919.75" stroke="#fbfbf4" stroke-width="1.8" stroke-dasharray="4.4 2.1" opacity="0.93"/>
<line x1="1716.3" y1="844.7" x2="1716.3" y2="919.75" stroke="#fbfbf4" stroke-width="1.8" stroke-dasharray="4.4 2.1" opacity="0.93"/>
<rect x="1613.6" y="843.1" width="112.05" height="77.55" fill="none" stroke="#15150f" stroke-width="1.2"/>
<linearGradient id="g16" x1="0" y1="0" x2="1" y2="0"><stop offset="0" stop-color="#8f9177"/><stop offset="0.21" stop-color="#949780"/><stop offset="0.79" stop-color="#949780"/><stop offset="1" stop-color="#8d8f75"/></linearGradient>
<rect x="1737.25" y="843.25" width="113" height="78.5" fill="url(#g16)"/>
<linearGradient id="g16v" x1="0" y1="0" x2="0" y2="1"><stop offset="0" stop-color="#000" stop-opacity="0.02"/><stop offset="0.5" stop-color="#fff" stop-opacity="0"/><stop offset="1" stop-color="#fff" stop-opacity="0.03"/></linearGradient>
<rect x="1737.25" y="843.25" width="113" height="78.5" fill="url(#g16v)"/>
<rect x="1738.25" y="844.25" width="111" height="76.5" filter="url(#nz)" opacity="0.3"/>
<rect x="1738.25" y="844.25" width="18.55" height="76.5" filter="url(#nz2)" opacity="0.5" style="mix-blend-mode:overlay"/>
<rect x="1829.7" y="844.25" width="19.55" height="76.5" filter="url(#nz2)" opacity="0.5" style="mix-blend-mode:overlay"/>
<circle cx="1819.54" cy="864.16" r="0.77" fill="#222" opacity="0.45"/><circle cx="1818.94" cy="863.56" r="0.61" fill="#fff" opacity="0.6"/>
<circle cx="1768.68" cy="898.99" r="1.21" fill="#222" opacity="0.45"/><circle cx="1768.08" cy="898.39" r="0.97" fill="#fff" opacity="0.6"/>
<circle cx="1825.74" cy="894.25" r="1.08" fill="#222" opacity="0.45"/><circle cx="1825.14" cy="893.65" r="0.87" fill="#fff" opacity="0.6"/>
<circle cx="1806.01" cy="882.03" r="1.03" fill="#222" opacity="0.45"/><circle cx="1805.41" cy="881.43" r="0.82" fill="#fff" opacity="0.6"/>
<circle cx="1770.72" cy="854.46" r="1.22" fill="#222" opacity="0.45"/><circle cx="1770.12" cy="853.86" r="0.98" fill="#fff" opacity="0.6"/>
<circle cx="1813.43" cy="912.15" r="1.14" fill="#222" opacity="0.45"/><circle cx="1812.83" cy="911.55" r="0.92" fill="#fff" opacity="0.6"/>
<circle cx="1799.51" cy="862.17" r="1.22" fill="#222" opacity="0.45"/><circle cx="1798.91" cy="861.57" r="0.98" fill="#fff" opacity="0.6"/>
<circle cx="1795.74" cy="906.09" r="1.17" fill="#222" opacity="0.45"/><circle cx="1795.14" cy="905.49" r="0.93" fill="#fff" opacity="0.6"/>
<circle cx="1812.41" cy="891.34" r="1.18" fill="#222" opacity="0.45"/><circle cx="1811.81" cy="890.74" r="0.94" fill="#fff" opacity="0.6"/>
<circle cx="1789.22" cy="896.46" r="1.02" fill="#222" opacity="0.45"/><circle cx="1788.62" cy="895.86" r="0.81" fill="#fff" opacity="0.6"/>
<line x1="1754.8" y1="845.45" x2="1754.8" y2="920.25" stroke="#fbfbf4" stroke-width="1.8" stroke-dasharray="4.4 2.1" opacity="0.93"/>
<line x1="1831.7" y1="845.45" x2="1831.7" y2="920.25" stroke="#fbfbf4" stroke-width="1.8" stroke-dasharray="4.4 2.1" opacity="0.93"/>
<rect x="1737.85" y="843.85" width="111.8" height="77.3" fill="none" stroke="#15150f" stroke-width="1.2"/>
<linearGradient id="g17" x1="0" y1="0" x2="1" y2="0"><stop offset="0" stop-color="#757a60"/><stop offset="0.14" stop-color="#797e65"/><stop offset="0.87" stop-color="#797e65"/><stop offset="1" stop-color="#767a61"/></linearGradient>
<rect x="1613" y="930" width="113.25" height="78.75" fill="url(#g17)"/>
<rect x="1614" y="931" width="111.25" height="76.75" filter="url(#nz)" opacity="0.3"/>
<rect x="1614" y="931" width="11.6" height="76.75" filter="url(#nz2)" opacity="0.35" style="mix-blend-mode:overlay"/>
<rect x="1715.5" y="931" width="9.75" height="76.75" filter="url(#nz2)" opacity="0.35" style="mix-blend-mode:overlay"/>
<circle cx="1671.97" cy="976.06" r="0.88" fill="#222" opacity="0.45"/><circle cx="1671.37" cy="975.46" r="0.71" fill="#fff" opacity="0.6"/>
<circle cx="1706.37" cy="984.39" r="1.16" fill="#222" opacity="0.45"/><circle cx="1705.77" cy="983.79" r="0.93" fill="#fff" opacity="0.6"/>
<circle cx="1667.72" cy="991.03" r="1.14" fill="#222" opacity="0.45"/><circle cx="1667.12" cy="990.43" r="0.91" fill="#fff" opacity="0.6"/>
<circle cx="1678.73" cy="945.25" r="0.97" fill="#222" opacity="0.45"/><circle cx="1678.13" cy="944.65" r="0.78" fill="#fff" opacity="0.6"/>
<line x1="1623.6" y1="932.2" x2="1623.6" y2="1007.25" stroke="#fbfbf4" stroke-width="1.8" stroke-dasharray="4.4 2.1" opacity="0.93"/>
<line x1="1717.5" y1="932.2" x2="1717.5" y2="1007.25" stroke="#fbfbf4" stroke-width="1.8" stroke-dasharray="4.4 2.1" opacity="0.93"/>
<rect x="1613.6" y="930.6" width="112.05" height="77.55" fill="none" stroke="#15150f" stroke-width="1.2"/>
<linearGradient id="g18" x1="0" y1="0" x2="1" y2="0"><stop offset="0" stop-color="#7a7a64"/><stop offset="0.24" stop-color="#747462"/><stop offset="0.73" stop-color="#747462"/><stop offset="1" stop-color="#7f7f69"/></linearGradient>
<rect x="1737.25" y="929.5" width="113" height="78.5" fill="url(#g18)"/>
<linearGradient id="g18v" x1="0" y1="0" x2="0" y2="1"><stop offset="0" stop-color="#000" stop-opacity="0.15"/><stop offset="0.5" stop-color="#000" stop-opacity="0"/><stop offset="1" stop-color="#fff" stop-opacity="0.06"/></linearGradient>
<rect x="1737.25" y="929.5" width="113" height="78.5" fill="url(#g18v)"/>
<rect x="1738.25" y="930.5" width="111" height="76.5" filter="url(#nz)" opacity="0.3"/>
<rect x="1738.25" y="930.5" width="22.35" height="76.5" filter="url(#nz2)" opacity="0.5" style="mix-blend-mode:overlay"/>
<rect x="1823.6" y="930.5" width="25.65" height="76.5" filter="url(#nz2)" opacity="0.5" style="mix-blend-mode:overlay"/>
<circle cx="1797.44" cy="986.98" r="0.86" fill="#222" opacity="0.45"/><circle cx="1796.84" cy="986.38" r="0.69" fill="#fff" opacity="0.6"/>
<circle cx="1813.84" cy="993.62" r="1.27" fill="#222" opacity="0.45"/><circle cx="1813.24" cy="993.02" r="1.02" fill="#fff" opacity="0.6"/>
<circle cx="1799.9" cy="958.69" r="1.19" fill="#222" opacity="0.45"/><circle cx="1799.3" cy="958.09" r="0.95" fill="#fff" opacity="0.6"/>
<circle cx="1771.35" cy="972.38" r="0.78" fill="#222" opacity="0.45"/><circle cx="1770.75" cy="971.78" r="0.63" fill="#fff" opacity="0.6"/>
<circle cx="1808.51" cy="973.48" r="1.17" fill="#222" opacity="0.45"/><circle cx="1807.91" cy="972.88" r="0.94" fill="#fff" opacity="0.6"/>
<circle cx="1772.81" cy="983.73" r="1.18" fill="#222" opacity="0.45"/><circle cx="1772.21" cy="983.13" r="0.94" fill="#fff" opacity="0.6"/>
<circle cx="1772.58" cy="944.59" r="0.75" fill="#222" opacity="0.45"/><circle cx="1771.98" cy="943.99" r="0.6" fill="#fff" opacity="0.6"/>
<circle cx="1779.54" cy="983.71" r="0.76" fill="#222" opacity="0.45"/><circle cx="1778.94" cy="983.11" r="0.6" fill="#fff" opacity="0.6"/>
<line x1="1758.6" y1="931.7" x2="1758.6" y2="1006.5" stroke="#fbfbf4" stroke-width="1.8" stroke-dasharray="4.4 2.1" opacity="0.93"/>
<line x1="1825.6" y1="931.7" x2="1825.6" y2="1006.5" stroke="#fbfbf4" stroke-width="1.8" stroke-dasharray="4.4 2.1" opacity="0.93"/>
<rect x="1737.85" y="930.1" width="111.8" height="77.3" fill="none" stroke="#15150f" stroke-width="1.2"/>
</svg>
</body></html>
